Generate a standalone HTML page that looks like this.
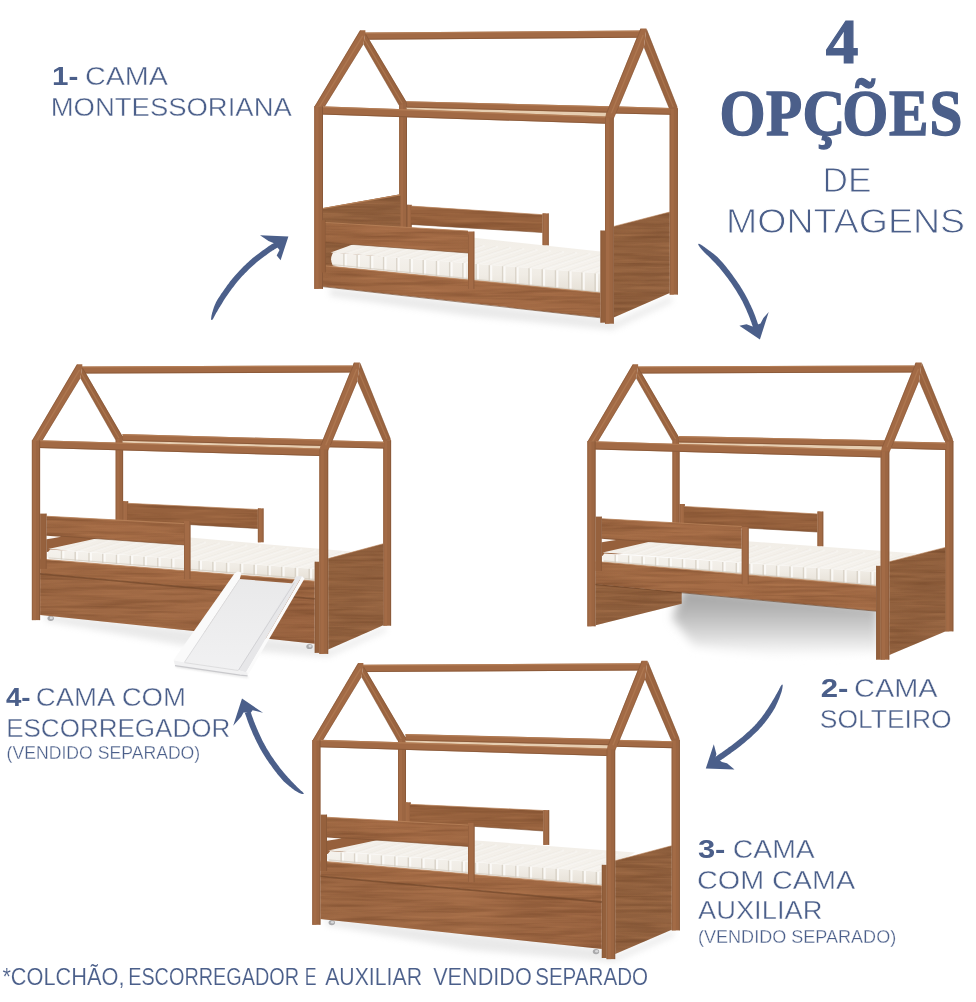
<!DOCTYPE html>
<html lang="pt-BR">
<head>
<meta charset="utf-8">
<title>4 opções de montagens</title>
<style>
html,body{margin:0;padding:0;background:#fff;}
body{width:976px;height:1002px;overflow:hidden;}
svg{display:block;}
text{white-space:pre;}
</style>
</head>
<body>
<svg width="976" height="1002" viewBox="0 0 976 1002">
<defs>
<linearGradient id="sideGrad" x1="0" y1="0" x2="1" y2="1">
<stop offset="0" stop-color="#94633f"/><stop offset=".5" stop-color="#8f5f3d"/><stop offset="1" stop-color="#966542"/>
</linearGradient>
<linearGradient id="frontGrad" x1="0" y1="0" x2="1" y2="0">
<stop offset="0" stop-color="#9d6742"/><stop offset=".45" stop-color="#a56c46"/><stop offset="1" stop-color="#9f6843"/>
</linearGradient>
<linearGradient id="drawGrad" x1="0" y1="0" x2="1" y2="0">
<stop offset="0" stop-color="#9b6642"/><stop offset=".5" stop-color="#a26b46"/><stop offset="1" stop-color="#98623f"/>
</linearGradient>
<linearGradient id="matTop" x1="0" y1="0" x2="0" y2="1">
<stop offset="0" stop-color="#f1ede6"/><stop offset="1" stop-color="#f6f3ee"/>
</linearGradient>
<linearGradient id="matFace" x1="0" y1="0" x2="0" y2="1">
<stop offset="0" stop-color="#f5f2ed"/><stop offset=".55" stop-color="#f0ece5"/><stop offset="1" stop-color="#e6e0d6"/>
</linearGradient>
<linearGradient id="slideGrad" x1="0" y1="0" x2="0" y2="1">
<stop offset="0" stop-color="#e9e9ea"/><stop offset="1" stop-color="#f1f1f2"/>
</linearGradient>
<linearGradient id="shad2" x1="0" y1="0" x2="0" y2="1">
<stop offset="0" stop-color="#a2a2a2"/><stop offset=".3" stop-color="#b2b2b2"/><stop offset=".65" stop-color="#d4d4d4"/><stop offset="1" stop-color="#fbfbfb"/>
</linearGradient>
<filter id="grain" x="0" y="0" width="100%" height="100%" color-interpolation-filters="sRGB">
<feTurbulence type="fractalNoise" baseFrequency="0.012 0.22" numOctaves="3" seed="7" result="n"/>
<feColorMatrix in="n" type="matrix" values="0 0 0 0 0.36  0 0 0 0 0.2  0 0 0 0 0.1  0.75 0 0 0 -0.31" result="g"/>
<feComposite in="g" in2="SourceGraphic" operator="in" result="gi"/>
<feTurbulence type="fractalNoise" baseFrequency="0.02 0.3" numOctaves="2" seed="21" result="n2"/>
<feColorMatrix in="n2" type="matrix" values="0 0 0 0 0.80  0 0 0 0 0.56  0 0 0 0 0.38  0.6 0 0 0 -0.27" result="l"/>
<feComposite in="l" in2="SourceGraphic" operator="in" result="li"/>
<feMerge><feMergeNode in="SourceGraphic"/><feMergeNode in="gi"/><feMergeNode in="li"/></feMerge>
</filter>
<filter id="b1" x="-10%" y="-100%" width="120%" height="300%"><feGaussianBlur stdDeviation="1.2"/></filter>
<filter id="b3" x="-10%" y="-40%" width="120%" height="180%"><feGaussianBlur stdDeviation="3"/></filter>
<filter id="b4" x="-10%" y="-40%" width="120%" height="180%"><feGaussianBlur stdDeviation="4"/></filter>
<filter id="b5" x="-10%" y="-40%" width="120%" height="180%"><feGaussianBlur stdDeviation="5"/></filter>
</defs>
<rect width="976" height="1002" fill="#fff"/>

<g>
<polygon points="330.0,288.0 600.0,318.0 614.0,322.0 672.0,296.0 672.0,302.0 612.0,330.0 470.0,316.0 330.0,296.0" fill="#bdbdbd" opacity="0.32" filter="url(#b3)"/>
<rect x="669.7" y="108.4" width="8.2" height="186.2" fill="#9c6642" />
<rect x="669.7" y="108.4" width="4.1" height="186.2" fill="#a56d47" opacity=".8"/>
<line x1="677.4" y1="108.4" x2="677.4" y2="294.6" stroke="#7d5032" stroke-width="1" opacity=".55"/>
<line x1="670.2" y1="108.4" x2="670.2" y2="294.6" stroke="#7d5032" stroke-width="1" opacity=".35"/>
<rect x="399.2" y="101.5" width="7.8" height="130.5" fill="#9c6642" />
<rect x="399.2" y="101.5" width="3.9" height="130.5" fill="#a56d47" opacity=".8"/>
<line x1="406.5" y1="101.5" x2="406.5" y2="232.0" stroke="#7d5032" stroke-width="1" opacity=".55"/>
<line x1="399.7" y1="101.5" x2="399.7" y2="232.0" stroke="#7d5032" stroke-width="1" opacity=".35"/>
<polygon points="406.6,107.1 609.5,112.2 609.5,117.1 406.6,109.9" fill="#e6cdb0" />
<polygon points="406.6,101.2 609.5,106.3 609.5,112.7 406.6,107.6" fill="#a26a45" />
<line x1="406.6" y1="101.8" x2="609.5" y2="106.9" stroke="#b9835a" stroke-width="1.1" opacity=".75"/>
<line x1="406.6" y1="107.1" x2="609.5" y2="112.2" stroke="#7d5032" stroke-width="1" opacity=".6"/>
<polygon points="365.0,32.5 640.0,30.5 640.0,37.7 365.0,39.7" fill="#a26a45" />
<line x1="365.0" y1="33.1" x2="640.0" y2="31.1" stroke="#b9835a" stroke-width="1.1" opacity=".75"/>
<line x1="365.0" y1="39.2" x2="640.0" y2="37.2" stroke="#7d5032" stroke-width="1" opacity=".6"/>
<polygon points="363.5,44.0 365.4,32.9 406.0,101.0 407.0,103.0 398.9,105.1" fill="#9a6440" />
<line x1="365.7" y1="34.4" x2="405.8" y2="101.7" stroke="#7d5032" stroke-width="1" opacity=".45"/>
<line x1="364.5" y1="39.4" x2="402.4" y2="103.5" stroke="#b9835a" stroke-width="1.2" opacity=".55"/>
<line x1="363.7" y1="44.2" x2="399.1" y2="105.3" stroke="#7d5032" stroke-width="1" opacity=".4"/>
<polygon points="314.3,106.8 360.0,30.2 365.4,30.2 365.4,32.9 363.5,44.0 324.7,106.8" fill="#a26a45" />
<line x1="314.8" y1="106.8" x2="360.4" y2="30.7" stroke="#7d5032" stroke-width="1" opacity=".45"/>
<line x1="319.3" y1="106.8" x2="362.7" y2="35.9" stroke="#b9835a" stroke-width="1.3" opacity=".5"/>
<line x1="324.3" y1="106.8" x2="363.2" y2="44.2" stroke="#7d5032" stroke-width="1" opacity=".4"/>
<polygon points="323.0,207.9 400.4,194.2 400.4,252.0 323.0,268.0" fill="url(#sideGrad)" filter="url(#grain)"/>
<polygon points="323.0,207.9 400.4,194.2 400.4,195.4 323.0,209.1" fill="#b9835a" />
<rect x="407.0" y="204.8" width="4.7" height="23.2" fill="#a26a45" />
<rect x="407.0" y="204.8" width="2.4" height="23.2" fill="#a56d47" opacity=".8"/>
<line x1="411.2" y1="204.8" x2="411.2" y2="228.0" stroke="#7d5032" stroke-width="1" opacity=".55"/>
<line x1="407.5" y1="204.8" x2="407.5" y2="228.0" stroke="#7d5032" stroke-width="1" opacity=".35"/>
<polygon points="411.0,206.1 542.6,214.7 542.6,232.5 411.0,224.4" fill="#96613d" filter="url(#grain)"/>
<line x1="411.0" y1="206.1" x2="542.6" y2="214.7" stroke="#b9835a" stroke-width="1" opacity=".7"/>
<line x1="411.0" y1="224.4" x2="542.6" y2="232.5" stroke="#7d5032" stroke-width="1" opacity=".6"/>
<rect x="542.6" y="213.4" width="6.2" height="32.0" fill="#a26a45" />
<rect x="542.6" y="213.4" width="3.1" height="32.0" fill="#a56d47" opacity=".8"/>
<line x1="548.3" y1="213.4" x2="548.3" y2="245.4" stroke="#7d5032" stroke-width="1" opacity=".55"/>
<line x1="543.1" y1="213.4" x2="543.1" y2="245.4" stroke="#7d5032" stroke-width="1" opacity=".35"/>
<clipPath id="mclip1"><polygon points="330.7,252.5 395.0,229.0 600.4,251.6 600.4,273.5"/></clipPath>
<polygon points="330.7,252.5 395.0,229.0 600.4,251.6 600.4,273.5" fill="url(#matTop)" />
<g clip-path="url(#mclip1)">
<line x1="343.9" y1="253.5" x2="389.9" y2="238.3" stroke="#d9d2c6" stroke-width="1.6" opacity=".18"/>
<line x1="346.1" y1="253.5" x2="392.1" y2="238.3" stroke="#ffffff" stroke-width="2.0" opacity=".3"/>
<line x1="357.1" y1="254.6" x2="403.1" y2="239.4" stroke="#d9d2c6" stroke-width="1.6" opacity=".18"/>
<line x1="359.3" y1="254.6" x2="405.3" y2="239.4" stroke="#ffffff" stroke-width="2.0" opacity=".3"/>
<line x1="370.4" y1="255.6" x2="416.4" y2="240.4" stroke="#d9d2c6" stroke-width="1.6" opacity=".18"/>
<line x1="372.6" y1="255.6" x2="418.6" y2="240.4" stroke="#ffffff" stroke-width="2.0" opacity=".3"/>
<line x1="383.6" y1="256.6" x2="429.6" y2="241.4" stroke="#d9d2c6" stroke-width="1.6" opacity=".18"/>
<line x1="385.8" y1="256.6" x2="431.8" y2="241.4" stroke="#ffffff" stroke-width="2.0" opacity=".3"/>
<line x1="396.8" y1="257.6" x2="442.8" y2="242.5" stroke="#d9d2c6" stroke-width="1.6" opacity=".18"/>
<line x1="399.0" y1="257.6" x2="445.0" y2="242.5" stroke="#ffffff" stroke-width="2.0" opacity=".3"/>
<line x1="410.0" y1="258.7" x2="456.0" y2="243.5" stroke="#d9d2c6" stroke-width="1.6" opacity=".18"/>
<line x1="412.2" y1="258.7" x2="458.2" y2="243.5" stroke="#ffffff" stroke-width="2.0" opacity=".3"/>
<line x1="423.2" y1="259.7" x2="469.2" y2="244.5" stroke="#d9d2c6" stroke-width="1.6" opacity=".18"/>
<line x1="425.4" y1="259.7" x2="471.4" y2="244.5" stroke="#ffffff" stroke-width="2.0" opacity=".3"/>
<line x1="436.5" y1="260.7" x2="482.5" y2="245.6" stroke="#d9d2c6" stroke-width="1.6" opacity=".18"/>
<line x1="438.7" y1="260.7" x2="484.7" y2="245.6" stroke="#ffffff" stroke-width="2.0" opacity=".3"/>
<line x1="449.7" y1="261.8" x2="495.7" y2="246.6" stroke="#d9d2c6" stroke-width="1.6" opacity=".18"/>
<line x1="451.9" y1="261.8" x2="497.9" y2="246.6" stroke="#ffffff" stroke-width="2.0" opacity=".3"/>
<line x1="462.9" y1="262.8" x2="508.9" y2="247.6" stroke="#d9d2c6" stroke-width="1.6" opacity=".18"/>
<line x1="465.1" y1="262.8" x2="511.1" y2="247.6" stroke="#ffffff" stroke-width="2.0" opacity=".3"/>
<line x1="476.1" y1="263.8" x2="522.1" y2="248.6" stroke="#d9d2c6" stroke-width="1.6" opacity=".18"/>
<line x1="478.3" y1="263.8" x2="524.3" y2="248.6" stroke="#ffffff" stroke-width="2.0" opacity=".3"/>
<line x1="489.3" y1="264.9" x2="535.3" y2="249.7" stroke="#d9d2c6" stroke-width="1.6" opacity=".18"/>
<line x1="491.5" y1="264.9" x2="537.5" y2="249.7" stroke="#ffffff" stroke-width="2.0" opacity=".3"/>
<line x1="502.6" y1="265.9" x2="548.6" y2="250.7" stroke="#d9d2c6" stroke-width="1.6" opacity=".18"/>
<line x1="504.8" y1="265.9" x2="550.8" y2="250.7" stroke="#ffffff" stroke-width="2.0" opacity=".3"/>
<line x1="515.8" y1="266.9" x2="561.8" y2="251.7" stroke="#d9d2c6" stroke-width="1.6" opacity=".18"/>
<line x1="518.0" y1="266.9" x2="564.0" y2="251.7" stroke="#ffffff" stroke-width="2.0" opacity=".3"/>
<line x1="529.0" y1="267.9" x2="575.0" y2="252.8" stroke="#d9d2c6" stroke-width="1.6" opacity=".18"/>
<line x1="531.2" y1="267.9" x2="577.2" y2="252.8" stroke="#ffffff" stroke-width="2.0" opacity=".3"/>
<line x1="542.2" y1="269.0" x2="588.2" y2="253.8" stroke="#d9d2c6" stroke-width="1.6" opacity=".18"/>
<line x1="544.4" y1="269.0" x2="590.4" y2="253.8" stroke="#ffffff" stroke-width="2.0" opacity=".3"/>
<line x1="555.5" y1="270.0" x2="601.5" y2="254.8" stroke="#d9d2c6" stroke-width="1.6" opacity=".18"/>
<line x1="557.7" y1="270.0" x2="603.7" y2="254.8" stroke="#ffffff" stroke-width="2.0" opacity=".3"/>
<line x1="568.7" y1="271.0" x2="614.7" y2="255.8" stroke="#d9d2c6" stroke-width="1.6" opacity=".18"/>
<line x1="570.9" y1="271.0" x2="616.9" y2="255.8" stroke="#ffffff" stroke-width="2.0" opacity=".3"/>
<line x1="581.9" y1="272.1" x2="627.9" y2="256.9" stroke="#d9d2c6" stroke-width="1.6" opacity=".18"/>
<line x1="584.1" y1="272.1" x2="630.1" y2="256.9" stroke="#ffffff" stroke-width="2.0" opacity=".3"/>
<line x1="595.1" y1="273.1" x2="641.1" y2="257.9" stroke="#d9d2c6" stroke-width="1.6" opacity=".18"/>
<line x1="597.3" y1="273.1" x2="643.3" y2="257.9" stroke="#ffffff" stroke-width="2.0" opacity=".3"/>
<line x1="608.3" y1="274.1" x2="654.3" y2="258.9" stroke="#d9d2c6" stroke-width="1.6" opacity=".18"/>
<line x1="610.5" y1="274.1" x2="656.5" y2="258.9" stroke="#ffffff" stroke-width="2.0" opacity=".3"/>
<line x1="621.6" y1="275.1" x2="667.6" y2="260.0" stroke="#d9d2c6" stroke-width="1.6" opacity=".18"/>
<line x1="623.8" y1="275.1" x2="669.8" y2="260.0" stroke="#ffffff" stroke-width="2.0" opacity=".3"/>
</g>
<path d="M333.2,252.5 L600.4,273.5 L600.4,293.0 L332.7,265.3 Q329.2,258.9 333.2,252.5Z" fill="url(#matFace)"/>
<line x1="343.9" y1="253.8" x2="343.9" y2="266.4" stroke="#d3ccc0" stroke-width="1.5" opacity=".75"/>
<line x1="345.8" y1="253.8" x2="345.8" y2="266.4" stroke="#fdfcfa" stroke-width="2.0" opacity=".85"/>
<line x1="357.1" y1="254.9" x2="357.1" y2="267.7" stroke="#d3ccc0" stroke-width="1.5" opacity=".75"/>
<line x1="359.0" y1="254.9" x2="359.0" y2="267.7" stroke="#fdfcfa" stroke-width="2.0" opacity=".85"/>
<line x1="370.4" y1="255.9" x2="370.4" y2="269.1" stroke="#d3ccc0" stroke-width="1.5" opacity=".75"/>
<line x1="372.3" y1="255.9" x2="372.3" y2="269.1" stroke="#fdfcfa" stroke-width="2.0" opacity=".85"/>
<line x1="383.6" y1="256.9" x2="383.6" y2="270.4" stroke="#d3ccc0" stroke-width="1.5" opacity=".75"/>
<line x1="385.5" y1="256.9" x2="385.5" y2="270.4" stroke="#fdfcfa" stroke-width="2.0" opacity=".85"/>
<line x1="396.8" y1="257.9" x2="396.8" y2="271.8" stroke="#d3ccc0" stroke-width="1.5" opacity=".75"/>
<line x1="398.7" y1="257.9" x2="398.7" y2="271.8" stroke="#fdfcfa" stroke-width="2.0" opacity=".85"/>
<line x1="410.0" y1="259.0" x2="410.0" y2="273.1" stroke="#d3ccc0" stroke-width="1.5" opacity=".75"/>
<line x1="411.9" y1="259.0" x2="411.9" y2="273.1" stroke="#fdfcfa" stroke-width="2.0" opacity=".85"/>
<line x1="423.2" y1="260.0" x2="423.2" y2="274.5" stroke="#d3ccc0" stroke-width="1.5" opacity=".75"/>
<line x1="425.1" y1="260.0" x2="425.1" y2="274.5" stroke="#fdfcfa" stroke-width="2.0" opacity=".85"/>
<line x1="436.5" y1="261.0" x2="436.5" y2="275.9" stroke="#d3ccc0" stroke-width="1.5" opacity=".75"/>
<line x1="438.4" y1="261.0" x2="438.4" y2="275.9" stroke="#fdfcfa" stroke-width="2.0" opacity=".85"/>
<line x1="449.7" y1="262.1" x2="449.7" y2="277.2" stroke="#d3ccc0" stroke-width="1.5" opacity=".75"/>
<line x1="451.6" y1="262.1" x2="451.6" y2="277.2" stroke="#fdfcfa" stroke-width="2.0" opacity=".85"/>
<line x1="462.9" y1="263.1" x2="462.9" y2="278.6" stroke="#d3ccc0" stroke-width="1.5" opacity=".75"/>
<line x1="464.8" y1="263.1" x2="464.8" y2="278.6" stroke="#fdfcfa" stroke-width="2.0" opacity=".85"/>
<line x1="476.1" y1="264.1" x2="476.1" y2="279.9" stroke="#d3ccc0" stroke-width="1.5" opacity=".75"/>
<line x1="478.0" y1="264.1" x2="478.0" y2="279.9" stroke="#fdfcfa" stroke-width="2.0" opacity=".85"/>
<line x1="489.3" y1="265.2" x2="489.3" y2="281.3" stroke="#d3ccc0" stroke-width="1.5" opacity=".75"/>
<line x1="491.2" y1="265.2" x2="491.2" y2="281.3" stroke="#fdfcfa" stroke-width="2.0" opacity=".85"/>
<line x1="502.6" y1="266.2" x2="502.6" y2="282.7" stroke="#d3ccc0" stroke-width="1.5" opacity=".75"/>
<line x1="504.5" y1="266.2" x2="504.5" y2="282.7" stroke="#fdfcfa" stroke-width="2.0" opacity=".85"/>
<line x1="515.8" y1="267.2" x2="515.8" y2="284.0" stroke="#d3ccc0" stroke-width="1.5" opacity=".75"/>
<line x1="517.7" y1="267.2" x2="517.7" y2="284.0" stroke="#fdfcfa" stroke-width="2.0" opacity=".85"/>
<line x1="529.0" y1="268.2" x2="529.0" y2="285.4" stroke="#d3ccc0" stroke-width="1.5" opacity=".75"/>
<line x1="530.9" y1="268.2" x2="530.9" y2="285.4" stroke="#fdfcfa" stroke-width="2.0" opacity=".85"/>
<line x1="542.2" y1="269.3" x2="542.2" y2="286.7" stroke="#d3ccc0" stroke-width="1.5" opacity=".75"/>
<line x1="544.1" y1="269.3" x2="544.1" y2="286.7" stroke="#fdfcfa" stroke-width="2.0" opacity=".85"/>
<line x1="555.5" y1="270.3" x2="555.5" y2="288.1" stroke="#d3ccc0" stroke-width="1.5" opacity=".75"/>
<line x1="557.4" y1="270.3" x2="557.4" y2="288.1" stroke="#fdfcfa" stroke-width="2.0" opacity=".85"/>
<line x1="568.7" y1="271.3" x2="568.7" y2="289.4" stroke="#d3ccc0" stroke-width="1.5" opacity=".75"/>
<line x1="570.6" y1="271.3" x2="570.6" y2="289.4" stroke="#fdfcfa" stroke-width="2.0" opacity=".85"/>
<line x1="581.9" y1="272.4" x2="581.9" y2="290.8" stroke="#d3ccc0" stroke-width="1.5" opacity=".75"/>
<line x1="583.8" y1="272.4" x2="583.8" y2="290.8" stroke="#fdfcfa" stroke-width="2.0" opacity=".85"/>
<line x1="595.1" y1="273.4" x2="595.1" y2="292.2" stroke="#d3ccc0" stroke-width="1.5" opacity=".75"/>
<line x1="597.0" y1="273.4" x2="597.0" y2="292.2" stroke="#fdfcfa" stroke-width="2.0" opacity=".85"/>
<line x1="332.7" y1="264.6" x2="600.4" y2="292.3" stroke="#cfc7ba" stroke-width="1.4" opacity=".55"/>
<polygon points="613.0,106.3 670.5,108.0 670.5,114.8 613.0,113.5" fill="#a26a45" />
<line x1="613.0" y1="106.9" x2="670.5" y2="108.6" stroke="#b9835a" stroke-width="1.1" opacity=".75"/>
<line x1="613.0" y1="113.0" x2="670.5" y2="114.3" stroke="#7d5032" stroke-width="1" opacity=".6"/>
<polygon points="643.9,47.0 646.4,28.5 676.9,105.9 677.9,108.9 669.7,108.9 668.9,107.8" fill="#9a6440" />
<line x1="646.6" y1="29.5" x2="677.1" y2="106.9" stroke="#7d5032" stroke-width="1" opacity=".45"/>
<line x1="645.4" y1="38.0" x2="673.3" y2="106.9" stroke="#b9835a" stroke-width="1.2" opacity=".5"/>
<line x1="644.2" y1="47.5" x2="669.2" y2="108.1" stroke="#7d5032" stroke-width="1" opacity=".4"/>
<polygon points="613.7,226.4 669.7,212.0 669.7,293.0 613.7,317.5" fill="url(#sideGrad)" filter="url(#grain)"/>
<line x1="613.7" y1="226.4" x2="669.7" y2="212.0" stroke="#b9835a" stroke-width="1" opacity=".55"/>
<polygon points="320.5,106.3 606.5,116.5 606.5,123.8 320.5,114.5" fill="#a26a45" />
<line x1="320.5" y1="106.9" x2="606.5" y2="117.1" stroke="#b9835a" stroke-width="1.1" opacity=".75"/>
<line x1="320.5" y1="114.0" x2="606.5" y2="123.3" stroke="#7d5032" stroke-width="1" opacity=".6"/>
<rect x="314.3" y="106.3" width="8.7" height="182.6" fill="#9c6642" />
<rect x="314.3" y="106.3" width="4.3" height="182.6" fill="#a56d47" opacity=".8"/>
<line x1="322.5" y1="106.3" x2="322.5" y2="288.9" stroke="#7d5032" stroke-width="1" opacity=".55"/>
<line x1="314.8" y1="106.3" x2="314.8" y2="288.9" stroke="#7d5032" stroke-width="1" opacity=".35"/>
<polygon points="605.0,118.5 606.2,113.0 640.4,28.5 646.4,28.5 643.9,47.0 616.3,113.0 613.8,118.5" fill="#a26a45" />
<line x1="606.6" y1="113.3" x2="640.8" y2="29.0" stroke="#7d5032" stroke-width="1" opacity=".45"/>
<line x1="611.3" y1="113.3" x2="643.2" y2="35.0" stroke="#b9835a" stroke-width="1.3" opacity=".5"/>
<line x1="615.9" y1="113.3" x2="643.6" y2="47.0" stroke="#7d5032" stroke-width="1" opacity=".4"/>
<rect x="605.0" y="117.5" width="8.8" height="206.2" fill="#9c6642" />
<rect x="605.0" y="117.5" width="4.4" height="206.2" fill="#a56d47" opacity=".8"/>
<line x1="613.3" y1="117.5" x2="613.3" y2="323.7" stroke="#7d5032" stroke-width="1" opacity=".55"/>
<line x1="605.5" y1="117.5" x2="605.5" y2="323.7" stroke="#7d5032" stroke-width="1" opacity=".35"/>
<rect x="600.4" y="230.5" width="4.6" height="92.2" fill="#94603c" />
<line x1="600.9" y1="230.5" x2="600.9" y2="322.7" stroke="#7d5032" stroke-width="1" opacity=".4"/>
<polygon points="323.0,265.6 600.4,293.0 600.4,317.5 323.0,286.4" fill="url(#frontGrad)" filter="url(#grain)"/>
<line x1="323.0" y1="265.6" x2="600.4" y2="293.0" stroke="#b9835a" stroke-width="1.2" opacity=".8"/>
<line x1="323.0" y1="286.7" x2="600.4" y2="317.8" stroke="#6c4327" stroke-width="1.0" opacity=".6"/>
<rect x="321.5" y="220.2" width="4.3" height="52.3" fill="#96613d" />
<line x1="325.4" y1="220.2" x2="325.4" y2="272.5" stroke="#7d5032" stroke-width="0.9" opacity=".5"/>
<polygon points="325.6,222.5 468.0,231.0 468.0,253.0 325.6,242.4" fill="url(#frontGrad)" filter="url(#grain)"/>
<line x1="325.6" y1="222.5" x2="468.0" y2="231.0" stroke="#b9835a" stroke-width="1.1" opacity=".8"/>
<line x1="325.6" y1="242.4" x2="468.0" y2="253.0" stroke="#7d5032" stroke-width="1" opacity=".6"/>
<rect x="468.0" y="231.5" width="6.4" height="57.4" fill="#a36b46" />
<line x1="473.9" y1="231.5" x2="473.9" y2="288.9" stroke="#7d5032" stroke-width="1" opacity=".55"/>
<line x1="468.5" y1="234.5" x2="468.5" y2="288.9" stroke="#7d5032" stroke-width="0.9" opacity=".35"/>
</g>
<g>
<polygon points="45.0,614.0 315.0,643.0 330.0,650.0 386.0,626.0 386.0,631.0 328.0,657.0 180.0,645.0 45.0,621.0" fill="#bdbdbd" opacity="0.32" filter="url(#b3)"/>
<rect x="383.3" y="440.2" width="7.8" height="185.5" fill="#9c6642" />
<rect x="383.3" y="440.2" width="3.9" height="185.5" fill="#a56d47" opacity=".8"/>
<line x1="390.6" y1="440.2" x2="390.6" y2="625.7" stroke="#7d5032" stroke-width="1" opacity=".55"/>
<line x1="383.8" y1="440.2" x2="383.8" y2="625.7" stroke="#7d5032" stroke-width="1" opacity=".35"/>
<rect x="115.7" y="436.0" width="7.4" height="86.0" fill="#9c6642" />
<rect x="115.7" y="436.0" width="3.7" height="86.0" fill="#a56d47" opacity=".8"/>
<line x1="122.6" y1="436.0" x2="122.6" y2="522.0" stroke="#7d5032" stroke-width="1" opacity=".55"/>
<line x1="116.2" y1="436.0" x2="116.2" y2="522.0" stroke="#7d5032" stroke-width="1" opacity=".35"/>
<polygon points="122.5,440.3 323.5,445.4 323.5,449.0 122.5,443.1" fill="#e6cdb0" />
<polygon points="122.5,434.0 323.5,439.5 323.5,445.9 122.5,440.8" fill="#a26a45" />
<line x1="122.5" y1="434.6" x2="323.5" y2="440.1" stroke="#b9835a" stroke-width="1.1" opacity=".75"/>
<line x1="122.5" y1="440.3" x2="323.5" y2="445.4" stroke="#7d5032" stroke-width="1" opacity=".6"/>
<polygon points="82.0,366.4 352.5,365.4 352.5,372.5 82.0,373.6" fill="#a26a45" />
<line x1="82.0" y1="367.0" x2="352.5" y2="366.0" stroke="#b9835a" stroke-width="1.1" opacity=".75"/>
<line x1="82.0" y1="373.1" x2="352.5" y2="372.0" stroke="#7d5032" stroke-width="1" opacity=".6"/>
<polygon points="80.4,378.0 82.3,366.9 122.1,435.5 123.1,437.5 115.4,439.6" fill="#9a6440" />
<line x1="82.6" y1="368.4" x2="121.9" y2="436.2" stroke="#7d5032" stroke-width="1" opacity=".45"/>
<line x1="81.4" y1="373.4" x2="118.9" y2="438.0" stroke="#b9835a" stroke-width="1.2" opacity=".55"/>
<line x1="80.6" y1="378.2" x2="115.6" y2="439.8" stroke="#7d5032" stroke-width="1" opacity=".4"/>
<polygon points="31.9,440.7 76.9,364.2 82.3,364.2 82.3,366.9 80.4,378.0 42.3,440.7" fill="#a26a45" />
<line x1="32.4" y1="440.7" x2="77.3" y2="364.7" stroke="#7d5032" stroke-width="1" opacity=".45"/>
<line x1="36.9" y1="440.7" x2="79.6" y2="369.9" stroke="#b9835a" stroke-width="1.3" opacity=".5"/>
<line x1="41.9" y1="440.7" x2="80.1" y2="378.2" stroke="#7d5032" stroke-width="1" opacity=".4"/>
<polygon points="46.6,535.0 123.0,523.0 123.0,545.0 46.6,552.0" fill="#96603c" />
<rect x="122.5" y="501.2" width="5.7" height="25.8" fill="#a26a45" />
<rect x="122.5" y="501.2" width="2.8" height="25.8" fill="#a56d47" opacity=".8"/>
<line x1="127.7" y1="501.2" x2="127.7" y2="527.0" stroke="#7d5032" stroke-width="1" opacity=".55"/>
<line x1="123.0" y1="501.2" x2="123.0" y2="527.0" stroke="#7d5032" stroke-width="1" opacity=".35"/>
<polygon points="127.5,503.3 257.9,509.5 257.9,528.5 127.5,521.0" fill="#96613d" filter="url(#grain)"/>
<line x1="127.5" y1="503.3" x2="257.9" y2="509.5" stroke="#b9835a" stroke-width="1" opacity=".7"/>
<line x1="127.5" y1="521.0" x2="257.9" y2="528.5" stroke="#7d5032" stroke-width="1" opacity=".6"/>
<rect x="257.9" y="508.4" width="5.7" height="33.9" fill="#a26a45" />
<rect x="257.9" y="508.4" width="2.9" height="33.9" fill="#a56d47" opacity=".8"/>
<line x1="263.1" y1="508.4" x2="263.1" y2="542.3" stroke="#7d5032" stroke-width="1" opacity=".55"/>
<line x1="258.4" y1="508.4" x2="258.4" y2="542.3" stroke="#7d5032" stroke-width="1" opacity=".35"/>
<clipPath id="mclip2"><polygon points="48.2,549.0 126.3,532.1 351.0,551.5 314.7,568.9"/></clipPath>
<polygon points="48.2,549.0 126.3,532.1 351.0,551.5 314.7,568.9" fill="url(#matTop)" />
<g clip-path="url(#mclip2)">
<line x1="61.5" y1="550.4" x2="107.5" y2="535.2" stroke="#d9d2c6" stroke-width="1.6" opacity=".18"/>
<line x1="63.7" y1="550.4" x2="109.7" y2="535.2" stroke="#ffffff" stroke-width="2.0" opacity=".3"/>
<line x1="75.2" y1="551.4" x2="121.2" y2="536.2" stroke="#d9d2c6" stroke-width="1.6" opacity=".18"/>
<line x1="77.4" y1="551.4" x2="123.4" y2="536.2" stroke="#ffffff" stroke-width="2.0" opacity=".3"/>
<line x1="89.0" y1="552.4" x2="135.0" y2="537.2" stroke="#d9d2c6" stroke-width="1.6" opacity=".18"/>
<line x1="91.2" y1="552.4" x2="137.2" y2="537.2" stroke="#ffffff" stroke-width="2.0" opacity=".3"/>
<line x1="102.8" y1="553.4" x2="148.8" y2="538.2" stroke="#d9d2c6" stroke-width="1.6" opacity=".18"/>
<line x1="105.0" y1="553.4" x2="151.0" y2="538.2" stroke="#ffffff" stroke-width="2.0" opacity=".3"/>
<line x1="116.5" y1="554.4" x2="162.5" y2="539.2" stroke="#d9d2c6" stroke-width="1.6" opacity=".18"/>
<line x1="118.7" y1="554.4" x2="164.7" y2="539.2" stroke="#ffffff" stroke-width="2.0" opacity=".3"/>
<line x1="130.3" y1="555.4" x2="176.3" y2="540.3" stroke="#d9d2c6" stroke-width="1.6" opacity=".18"/>
<line x1="132.5" y1="555.4" x2="178.5" y2="540.3" stroke="#ffffff" stroke-width="2.0" opacity=".3"/>
<line x1="144.0" y1="556.4" x2="190.0" y2="541.3" stroke="#d9d2c6" stroke-width="1.6" opacity=".18"/>
<line x1="146.2" y1="556.4" x2="192.2" y2="541.3" stroke="#ffffff" stroke-width="2.0" opacity=".3"/>
<line x1="157.8" y1="557.4" x2="203.8" y2="542.3" stroke="#d9d2c6" stroke-width="1.6" opacity=".18"/>
<line x1="160.0" y1="557.4" x2="206.0" y2="542.3" stroke="#ffffff" stroke-width="2.0" opacity=".3"/>
<line x1="171.6" y1="558.4" x2="217.6" y2="543.3" stroke="#d9d2c6" stroke-width="1.6" opacity=".18"/>
<line x1="173.8" y1="558.4" x2="219.8" y2="543.3" stroke="#ffffff" stroke-width="2.0" opacity=".3"/>
<line x1="185.3" y1="559.5" x2="231.3" y2="544.3" stroke="#d9d2c6" stroke-width="1.6" opacity=".18"/>
<line x1="187.5" y1="559.5" x2="233.5" y2="544.3" stroke="#ffffff" stroke-width="2.0" opacity=".3"/>
<line x1="199.1" y1="560.5" x2="245.1" y2="545.3" stroke="#d9d2c6" stroke-width="1.6" opacity=".18"/>
<line x1="201.3" y1="560.5" x2="247.3" y2="545.3" stroke="#ffffff" stroke-width="2.0" opacity=".3"/>
<line x1="212.9" y1="561.5" x2="258.9" y2="546.3" stroke="#d9d2c6" stroke-width="1.6" opacity=".18"/>
<line x1="215.1" y1="561.5" x2="261.1" y2="546.3" stroke="#ffffff" stroke-width="2.0" opacity=".3"/>
<line x1="226.6" y1="562.5" x2="272.6" y2="547.3" stroke="#d9d2c6" stroke-width="1.6" opacity=".18"/>
<line x1="228.8" y1="562.5" x2="274.8" y2="547.3" stroke="#ffffff" stroke-width="2.0" opacity=".3"/>
<line x1="240.4" y1="563.5" x2="286.4" y2="548.3" stroke="#d9d2c6" stroke-width="1.6" opacity=".18"/>
<line x1="242.6" y1="563.5" x2="288.6" y2="548.3" stroke="#ffffff" stroke-width="2.0" opacity=".3"/>
<line x1="254.1" y1="564.5" x2="300.1" y2="549.3" stroke="#d9d2c6" stroke-width="1.6" opacity=".18"/>
<line x1="256.3" y1="564.5" x2="302.3" y2="549.3" stroke="#ffffff" stroke-width="2.0" opacity=".3"/>
<line x1="267.9" y1="565.5" x2="313.9" y2="550.3" stroke="#d9d2c6" stroke-width="1.6" opacity=".18"/>
<line x1="270.1" y1="565.5" x2="316.1" y2="550.3" stroke="#ffffff" stroke-width="2.0" opacity=".3"/>
<line x1="281.7" y1="566.5" x2="327.7" y2="551.3" stroke="#d9d2c6" stroke-width="1.6" opacity=".18"/>
<line x1="283.9" y1="566.5" x2="329.9" y2="551.3" stroke="#ffffff" stroke-width="2.0" opacity=".3"/>
<line x1="295.4" y1="567.5" x2="341.4" y2="552.3" stroke="#d9d2c6" stroke-width="1.6" opacity=".18"/>
<line x1="297.6" y1="567.5" x2="343.6" y2="552.3" stroke="#ffffff" stroke-width="2.0" opacity=".3"/>
<line x1="309.2" y1="568.5" x2="355.2" y2="553.3" stroke="#d9d2c6" stroke-width="1.6" opacity=".18"/>
<line x1="311.4" y1="568.5" x2="357.4" y2="553.3" stroke="#ffffff" stroke-width="2.0" opacity=".3"/>
<line x1="323.0" y1="569.5" x2="369.0" y2="554.3" stroke="#d9d2c6" stroke-width="1.6" opacity=".18"/>
<line x1="325.2" y1="569.5" x2="371.2" y2="554.3" stroke="#ffffff" stroke-width="2.0" opacity=".3"/>
<line x1="336.7" y1="570.5" x2="382.7" y2="555.3" stroke="#d9d2c6" stroke-width="1.6" opacity=".18"/>
<line x1="338.9" y1="570.5" x2="384.9" y2="555.3" stroke="#ffffff" stroke-width="2.0" opacity=".3"/>
</g>
<path d="M50.2,549.4 L314.7,568.9 L314.7,580.2 L48.6,558.6 Q45.1,554.0 50.2,549.4Z" fill="url(#matFace)"/>
<line x1="61.5" y1="550.7" x2="61.5" y2="559.4" stroke="#d3ccc0" stroke-width="1.5" opacity=".75"/>
<line x1="63.4" y1="550.7" x2="63.4" y2="559.4" stroke="#fdfcfa" stroke-width="2.0" opacity=".85"/>
<line x1="75.2" y1="551.7" x2="75.2" y2="560.5" stroke="#d3ccc0" stroke-width="1.5" opacity=".75"/>
<line x1="77.1" y1="551.7" x2="77.1" y2="560.5" stroke="#fdfcfa" stroke-width="2.0" opacity=".85"/>
<line x1="89.0" y1="552.7" x2="89.0" y2="561.6" stroke="#d3ccc0" stroke-width="1.5" opacity=".75"/>
<line x1="90.9" y1="552.7" x2="90.9" y2="561.6" stroke="#fdfcfa" stroke-width="2.0" opacity=".85"/>
<line x1="102.8" y1="553.7" x2="102.8" y2="562.8" stroke="#d3ccc0" stroke-width="1.5" opacity=".75"/>
<line x1="104.7" y1="553.7" x2="104.7" y2="562.8" stroke="#fdfcfa" stroke-width="2.0" opacity=".85"/>
<line x1="116.5" y1="554.7" x2="116.5" y2="563.9" stroke="#d3ccc0" stroke-width="1.5" opacity=".75"/>
<line x1="118.4" y1="554.7" x2="118.4" y2="563.9" stroke="#fdfcfa" stroke-width="2.0" opacity=".85"/>
<line x1="130.3" y1="555.7" x2="130.3" y2="565.0" stroke="#d3ccc0" stroke-width="1.5" opacity=".75"/>
<line x1="132.2" y1="555.7" x2="132.2" y2="565.0" stroke="#fdfcfa" stroke-width="2.0" opacity=".85"/>
<line x1="144.0" y1="556.7" x2="144.0" y2="566.1" stroke="#d3ccc0" stroke-width="1.5" opacity=".75"/>
<line x1="145.9" y1="556.7" x2="145.9" y2="566.1" stroke="#fdfcfa" stroke-width="2.0" opacity=".85"/>
<line x1="157.8" y1="557.7" x2="157.8" y2="567.2" stroke="#d3ccc0" stroke-width="1.5" opacity=".75"/>
<line x1="159.7" y1="557.7" x2="159.7" y2="567.2" stroke="#fdfcfa" stroke-width="2.0" opacity=".85"/>
<line x1="171.6" y1="558.7" x2="171.6" y2="568.3" stroke="#d3ccc0" stroke-width="1.5" opacity=".75"/>
<line x1="173.5" y1="558.7" x2="173.5" y2="568.3" stroke="#fdfcfa" stroke-width="2.0" opacity=".85"/>
<line x1="185.3" y1="559.8" x2="185.3" y2="569.4" stroke="#d3ccc0" stroke-width="1.5" opacity=".75"/>
<line x1="187.2" y1="559.8" x2="187.2" y2="569.4" stroke="#fdfcfa" stroke-width="2.0" opacity=".85"/>
<line x1="199.1" y1="560.8" x2="199.1" y2="570.5" stroke="#d3ccc0" stroke-width="1.5" opacity=".75"/>
<line x1="201.0" y1="560.8" x2="201.0" y2="570.5" stroke="#fdfcfa" stroke-width="2.0" opacity=".85"/>
<line x1="212.9" y1="561.8" x2="212.9" y2="571.7" stroke="#d3ccc0" stroke-width="1.5" opacity=".75"/>
<line x1="214.8" y1="561.8" x2="214.8" y2="571.7" stroke="#fdfcfa" stroke-width="2.0" opacity=".85"/>
<line x1="226.6" y1="562.8" x2="226.6" y2="572.8" stroke="#d3ccc0" stroke-width="1.5" opacity=".75"/>
<line x1="228.5" y1="562.8" x2="228.5" y2="572.8" stroke="#fdfcfa" stroke-width="2.0" opacity=".85"/>
<line x1="240.4" y1="563.8" x2="240.4" y2="573.9" stroke="#d3ccc0" stroke-width="1.5" opacity=".75"/>
<line x1="242.3" y1="563.8" x2="242.3" y2="573.9" stroke="#fdfcfa" stroke-width="2.0" opacity=".85"/>
<line x1="254.1" y1="564.8" x2="254.1" y2="575.0" stroke="#d3ccc0" stroke-width="1.5" opacity=".75"/>
<line x1="256.0" y1="564.8" x2="256.0" y2="575.0" stroke="#fdfcfa" stroke-width="2.0" opacity=".85"/>
<line x1="267.9" y1="565.8" x2="267.9" y2="576.1" stroke="#d3ccc0" stroke-width="1.5" opacity=".75"/>
<line x1="269.8" y1="565.8" x2="269.8" y2="576.1" stroke="#fdfcfa" stroke-width="2.0" opacity=".85"/>
<line x1="281.7" y1="566.8" x2="281.7" y2="577.2" stroke="#d3ccc0" stroke-width="1.5" opacity=".75"/>
<line x1="283.6" y1="566.8" x2="283.6" y2="577.2" stroke="#fdfcfa" stroke-width="2.0" opacity=".85"/>
<line x1="295.4" y1="567.8" x2="295.4" y2="578.3" stroke="#d3ccc0" stroke-width="1.5" opacity=".75"/>
<line x1="297.3" y1="567.8" x2="297.3" y2="578.3" stroke="#fdfcfa" stroke-width="2.0" opacity=".85"/>
<line x1="309.2" y1="568.8" x2="309.2" y2="579.5" stroke="#d3ccc0" stroke-width="1.5" opacity=".75"/>
<line x1="311.1" y1="568.8" x2="311.1" y2="579.5" stroke="#fdfcfa" stroke-width="2.0" opacity=".85"/>
<line x1="48.6" y1="557.9" x2="314.7" y2="579.5" stroke="#cfc7ba" stroke-width="1.4" opacity=".55"/>
<polygon points="327.5,440.2 384.0,441.8 384.0,448.6 327.5,447.3" fill="#a26a45" />
<line x1="327.5" y1="440.8" x2="384.0" y2="442.4" stroke="#b9835a" stroke-width="1.1" opacity=".75"/>
<line x1="327.5" y1="446.8" x2="384.0" y2="448.1" stroke="#7d5032" stroke-width="1" opacity=".6"/>
<polygon points="357.4,380.9 359.9,362.4 390.1,437.7 391.1,440.7 383.3,440.7 382.5,439.6" fill="#9a6440" />
<line x1="360.1" y1="363.4" x2="390.3" y2="438.7" stroke="#7d5032" stroke-width="1" opacity=".45"/>
<line x1="358.9" y1="371.9" x2="386.9" y2="438.7" stroke="#b9835a" stroke-width="1.2" opacity=".5"/>
<line x1="357.7" y1="381.4" x2="382.8" y2="439.9" stroke="#7d5032" stroke-width="1" opacity=".4"/>
<polygon points="328.2,558.6 383.3,543.7 383.3,625.2 328.2,649.4" fill="url(#sideGrad)" filter="url(#grain)"/>
<line x1="328.2" y1="558.6" x2="383.3" y2="543.7" stroke="#b9835a" stroke-width="1" opacity=".55"/>
<polygon points="38.4,440.2 320.5,448.4 320.5,456.1 38.4,448.0" fill="#a26a45" />
<line x1="38.4" y1="440.8" x2="320.5" y2="449.0" stroke="#b9835a" stroke-width="1.1" opacity=".75"/>
<line x1="38.4" y1="447.5" x2="320.5" y2="455.6" stroke="#7d5032" stroke-width="1" opacity=".6"/>
<rect x="31.9" y="440.2" width="8.2" height="179.9" fill="#9c6642" />
<rect x="31.9" y="440.2" width="4.1" height="179.9" fill="#a56d47" opacity=".8"/>
<line x1="39.6" y1="440.2" x2="39.6" y2="620.1" stroke="#7d5032" stroke-width="1" opacity=".55"/>
<line x1="32.4" y1="440.2" x2="32.4" y2="620.1" stroke="#7d5032" stroke-width="1" opacity=".35"/>
<polygon points="319.4,450.4 320.6,444.9 353.9,362.4 359.9,362.4 357.4,380.9 330.7,444.9 328.2,450.4" fill="#a26a45" />
<line x1="321.0" y1="445.2" x2="354.3" y2="362.9" stroke="#7d5032" stroke-width="1" opacity=".45"/>
<line x1="325.7" y1="445.2" x2="356.7" y2="368.9" stroke="#b9835a" stroke-width="1.3" opacity=".5"/>
<line x1="330.3" y1="445.2" x2="357.1" y2="380.9" stroke="#7d5032" stroke-width="1" opacity=".4"/>
<rect x="319.4" y="449.4" width="8.8" height="204.5" fill="#9c6642" />
<rect x="319.4" y="449.4" width="4.4" height="204.5" fill="#a56d47" opacity=".8"/>
<line x1="327.7" y1="449.4" x2="327.7" y2="653.9" stroke="#7d5032" stroke-width="1" opacity=".55"/>
<line x1="319.9" y1="449.4" x2="319.9" y2="653.9" stroke="#7d5032" stroke-width="1" opacity=".35"/>
<rect x="314.7" y="561.7" width="4.8" height="91.2" fill="#94603c" />
<line x1="315.2" y1="561.7" x2="315.2" y2="652.9" stroke="#7d5032" stroke-width="1" opacity=".4"/>
<ellipse cx="50.7" cy="618.3" rx="3.2" ry="2.6" fill="#a9a9ab"/><ellipse cx="51.3" cy="617.9" rx="1.6" ry="1.3" fill="#d8d8da"/>
<ellipse cx="309.5" cy="646.5" rx="3.2" ry="2.6" fill="#a9a9ab"/><ellipse cx="310.1" cy="646.1" rx="1.6" ry="1.3" fill="#d8d8da"/>
<polygon points="40.1,573.0 314.7,598.0 314.7,643.7 40.1,615.0" fill="url(#drawGrad)" filter="url(#grain)"/>
<polygon points="40.1,559.2 314.7,581.2 314.7,598.6 40.1,573.6" fill="url(#frontGrad)" filter="url(#grain)"/>
<line x1="40.1" y1="559.2" x2="314.7" y2="581.2" stroke="#b9835a" stroke-width="1.2" opacity=".8"/>
<line x1="40.1" y1="573.9" x2="314.7" y2="598.9" stroke="#6c4327" stroke-width="1.8" opacity=".6"/>
<rect x="40.1" y="513.6" width="6.5" height="55.3" fill="#96613d" />
<line x1="46.2" y1="513.6" x2="46.2" y2="568.9" stroke="#7d5032" stroke-width="0.9" opacity=".5"/>
<polygon points="46.6,516.2 184.0,523.6 184.0,544.9 46.6,535.1" fill="url(#frontGrad)" filter="url(#grain)"/>
<line x1="46.6" y1="516.2" x2="184.0" y2="523.6" stroke="#b9835a" stroke-width="1.1" opacity=".8"/>
<line x1="46.6" y1="535.1" x2="184.0" y2="544.9" stroke="#7d5032" stroke-width="1" opacity=".6"/>
<rect x="184.0" y="521.1" width="6.5" height="58.0" fill="#a36b46" />
<line x1="190.0" y1="521.1" x2="190.0" y2="579.1" stroke="#7d5032" stroke-width="1" opacity=".55"/>
<line x1="184.5" y1="524.1" x2="184.5" y2="579.1" stroke="#7d5032" stroke-width="0.9" opacity=".35"/>
<polygon points="46.6,535.8 61.0,536.8 53.0,538.2 46.6,539.2" fill="#fbf8f5" />
</g>
<polygon points="176.0,664.5 247.0,676.5 249.0,678.0 176.0,667.0" fill="#9a9a9a" opacity="0.35" filter="url(#b1)"/>
<polygon points="184.4,662.4 238.4,670.3 247.6,675.6 240.0,675.0 175.2,665.6 173.6,660.4" fill="#f6f6f6"/>
<polygon points="239.6,579.0 294.4,583.4 238.4,670.3 184.4,662.4" fill="url(#slideGrad)"/>
<polygon points="234.5,573.6 237.6,571.4 241.6,572.4 239.8,579.0 184.4,662.6 175.0,661.6 173.6,660.0" fill="#fafafa"/>
<line x1="239.6" y1="579.4" x2="184.4" y2="662.4" stroke="#dcdcde" stroke-width="1"/>
<polygon points="294.4,579.4 295.6,576.4 302.0,576.0 246.0,672.6 238.4,670.3" fill="#e7e7e9"/>
<polygon points="302.0,576.2 304.6,578.4 247.8,675.4 245.6,673.0" fill="#fbfbfb"/>
<line x1="294.4" y1="582.6" x2="238.6" y2="670.0" stroke="#d2d2d5" stroke-width="1"/>
<polygon points="174.0,660.6 184.4,662.4 238.4,670.3 247.4,672.4 247.6,675.6 240.0,675.0 175.2,665.8" fill="#f1f1f2"/>
<polyline points="175.0,665.6 240.0,675.2 247.6,675.8" fill="none" stroke="#c9c9cc" stroke-width="1.2"/>
<line x1="184.4" y1="662.6" x2="238.4" y2="670.5" stroke="#dededf" stroke-width="1"/>
<g>
<polygon points="684.0,588.0 878.0,606.0 878.0,652.0 770.0,655.0 694.0,646.0 672.0,618.0" fill="url(#shad2)" filter="url(#b5)"/>
<rect x="945.2" y="441.0" width="8.2" height="190.4" fill="#9c6642" />
<rect x="945.2" y="441.0" width="4.1" height="190.4" fill="#a56d47" opacity=".8"/>
<line x1="952.9" y1="441.0" x2="952.9" y2="631.4" stroke="#7d5032" stroke-width="1" opacity=".55"/>
<line x1="945.7" y1="441.0" x2="945.7" y2="631.4" stroke="#7d5032" stroke-width="1" opacity=".35"/>
<rect x="672.5" y="437.0" width="7.1" height="88.0" fill="#9c6642" />
<rect x="672.5" y="437.0" width="3.5" height="88.0" fill="#a56d47" opacity=".8"/>
<line x1="679.1" y1="437.0" x2="679.1" y2="525.0" stroke="#7d5032" stroke-width="1" opacity=".55"/>
<line x1="673.0" y1="437.0" x2="673.0" y2="525.0" stroke="#7d5032" stroke-width="1" opacity=".35"/>
<polygon points="679.0,441.9 885.0,446.0 885.0,450.6 679.0,444.3" fill="#e6cdb0" />
<polygon points="679.0,436.0 885.0,440.2 885.0,446.5 679.0,442.4" fill="#a26a45" />
<line x1="679.0" y1="436.6" x2="885.0" y2="440.8" stroke="#b9835a" stroke-width="1.1" opacity=".75"/>
<line x1="679.0" y1="441.9" x2="885.0" y2="446.0" stroke="#7d5032" stroke-width="1" opacity=".6"/>
<polygon points="638.0,366.4 914.0,365.4 914.0,372.5 638.0,373.6" fill="#a26a45" />
<line x1="638.0" y1="367.0" x2="914.0" y2="366.0" stroke="#b9835a" stroke-width="1.1" opacity=".75"/>
<line x1="638.0" y1="373.1" x2="914.0" y2="372.0" stroke="#7d5032" stroke-width="1" opacity=".6"/>
<polygon points="636.2,378.0 638.1,366.9 678.6,436.5 679.6,438.5 672.2,440.6" fill="#9a6440" />
<line x1="638.4" y1="368.4" x2="678.4" y2="437.2" stroke="#7d5032" stroke-width="1" opacity=".45"/>
<line x1="637.2" y1="373.4" x2="675.7" y2="439.0" stroke="#b9835a" stroke-width="1.2" opacity=".55"/>
<line x1="636.4" y1="378.2" x2="672.4" y2="440.8" stroke="#7d5032" stroke-width="1" opacity=".4"/>
<polygon points="587.4,441.7 632.7,364.2 638.1,364.2 638.1,366.9 636.2,378.0 597.8,441.7" fill="#a26a45" />
<line x1="587.9" y1="441.7" x2="633.1" y2="364.7" stroke="#7d5032" stroke-width="1" opacity=".45"/>
<line x1="592.4" y1="441.7" x2="635.4" y2="369.9" stroke="#b9835a" stroke-width="1.3" opacity=".5"/>
<line x1="597.4" y1="441.7" x2="635.9" y2="378.2" stroke="#7d5032" stroke-width="1" opacity=".4"/>
<polygon points="601.8,538.0 680.0,526.0 680.0,548.0 601.8,556.0" fill="#96603c" />
<rect x="679.6" y="504.0" width="5.2" height="26.0" fill="#a26a45" />
<rect x="679.6" y="504.0" width="2.6" height="26.0" fill="#a56d47" opacity=".8"/>
<line x1="684.3" y1="504.0" x2="684.3" y2="530.0" stroke="#7d5032" stroke-width="1" opacity=".55"/>
<line x1="680.1" y1="504.0" x2="680.1" y2="530.0" stroke="#7d5032" stroke-width="1" opacity=".35"/>
<polygon points="684.0,506.4 817.5,514.0 817.5,532.0 684.0,524.5" fill="#96613d" filter="url(#grain)"/>
<line x1="684.0" y1="506.4" x2="817.5" y2="514.0" stroke="#b9835a" stroke-width="1" opacity=".7"/>
<line x1="684.0" y1="524.5" x2="817.5" y2="532.0" stroke="#7d5032" stroke-width="1" opacity=".6"/>
<rect x="817.5" y="511.5" width="5.8" height="34.9" fill="#a26a45" />
<rect x="817.5" y="511.5" width="2.9" height="34.9" fill="#a56d47" opacity=".8"/>
<line x1="822.8" y1="511.5" x2="822.8" y2="546.4" stroke="#7d5032" stroke-width="1" opacity=".55"/>
<line x1="818.0" y1="511.5" x2="818.0" y2="546.4" stroke="#7d5032" stroke-width="1" opacity=".35"/>
<clipPath id="mclip3"><polygon points="602.6,552.6 674.8,536.1 917.0,553.5 876.1,572.0"/></clipPath>
<polygon points="602.6,552.6 674.8,536.1 917.0,553.5 876.1,572.0" fill="url(#matTop)" />
<g clip-path="url(#mclip3)">
<line x1="615.2" y1="554.4" x2="661.2" y2="539.2" stroke="#d9d2c6" stroke-width="1.6" opacity=".18"/>
<line x1="617.4" y1="554.4" x2="663.4" y2="539.2" stroke="#ffffff" stroke-width="2.0" opacity=".3"/>
<line x1="628.7" y1="555.3" x2="674.7" y2="540.1" stroke="#d9d2c6" stroke-width="1.6" opacity=".18"/>
<line x1="630.9" y1="555.3" x2="676.9" y2="540.1" stroke="#ffffff" stroke-width="2.0" opacity=".3"/>
<line x1="642.1" y1="556.2" x2="688.1" y2="541.0" stroke="#d9d2c6" stroke-width="1.6" opacity=".18"/>
<line x1="644.3" y1="556.2" x2="690.3" y2="541.0" stroke="#ffffff" stroke-width="2.0" opacity=".3"/>
<line x1="655.6" y1="557.1" x2="701.6" y2="541.9" stroke="#d9d2c6" stroke-width="1.6" opacity=".18"/>
<line x1="657.8" y1="557.1" x2="703.8" y2="541.9" stroke="#ffffff" stroke-width="2.0" opacity=".3"/>
<line x1="669.0" y1="558.0" x2="715.0" y2="542.9" stroke="#d9d2c6" stroke-width="1.6" opacity=".18"/>
<line x1="671.2" y1="558.0" x2="717.2" y2="542.9" stroke="#ffffff" stroke-width="2.0" opacity=".3"/>
<line x1="682.5" y1="558.9" x2="728.5" y2="543.8" stroke="#d9d2c6" stroke-width="1.6" opacity=".18"/>
<line x1="684.7" y1="558.9" x2="730.7" y2="543.8" stroke="#ffffff" stroke-width="2.0" opacity=".3"/>
<line x1="695.9" y1="559.8" x2="741.9" y2="544.7" stroke="#d9d2c6" stroke-width="1.6" opacity=".18"/>
<line x1="698.1" y1="559.8" x2="744.1" y2="544.7" stroke="#ffffff" stroke-width="2.0" opacity=".3"/>
<line x1="709.4" y1="560.8" x2="755.4" y2="545.6" stroke="#d9d2c6" stroke-width="1.6" opacity=".18"/>
<line x1="711.6" y1="560.8" x2="757.6" y2="545.6" stroke="#ffffff" stroke-width="2.0" opacity=".3"/>
<line x1="722.8" y1="561.7" x2="768.8" y2="546.5" stroke="#d9d2c6" stroke-width="1.6" opacity=".18"/>
<line x1="725.0" y1="561.7" x2="771.0" y2="546.5" stroke="#ffffff" stroke-width="2.0" opacity=".3"/>
<line x1="736.3" y1="562.6" x2="782.3" y2="547.4" stroke="#d9d2c6" stroke-width="1.6" opacity=".18"/>
<line x1="738.5" y1="562.6" x2="784.5" y2="547.4" stroke="#ffffff" stroke-width="2.0" opacity=".3"/>
<line x1="749.7" y1="563.5" x2="795.7" y2="548.3" stroke="#d9d2c6" stroke-width="1.6" opacity=".18"/>
<line x1="751.9" y1="563.5" x2="797.9" y2="548.3" stroke="#ffffff" stroke-width="2.0" opacity=".3"/>
<line x1="763.2" y1="564.4" x2="809.2" y2="549.2" stroke="#d9d2c6" stroke-width="1.6" opacity=".18"/>
<line x1="765.4" y1="564.4" x2="811.4" y2="549.2" stroke="#ffffff" stroke-width="2.0" opacity=".3"/>
<line x1="776.6" y1="565.3" x2="822.6" y2="550.1" stroke="#d9d2c6" stroke-width="1.6" opacity=".18"/>
<line x1="778.8" y1="565.3" x2="824.8" y2="550.1" stroke="#ffffff" stroke-width="2.0" opacity=".3"/>
<line x1="790.0" y1="566.2" x2="836.0" y2="551.0" stroke="#d9d2c6" stroke-width="1.6" opacity=".18"/>
<line x1="792.2" y1="566.2" x2="838.2" y2="551.0" stroke="#ffffff" stroke-width="2.0" opacity=".3"/>
<line x1="803.5" y1="567.1" x2="849.5" y2="551.9" stroke="#d9d2c6" stroke-width="1.6" opacity=".18"/>
<line x1="805.7" y1="567.1" x2="851.7" y2="551.9" stroke="#ffffff" stroke-width="2.0" opacity=".3"/>
<line x1="816.9" y1="568.0" x2="862.9" y2="552.8" stroke="#d9d2c6" stroke-width="1.6" opacity=".18"/>
<line x1="819.1" y1="568.0" x2="865.1" y2="552.8" stroke="#ffffff" stroke-width="2.0" opacity=".3"/>
<line x1="830.4" y1="568.9" x2="876.4" y2="553.7" stroke="#d9d2c6" stroke-width="1.6" opacity=".18"/>
<line x1="832.6" y1="568.9" x2="878.6" y2="553.7" stroke="#ffffff" stroke-width="2.0" opacity=".3"/>
<line x1="843.8" y1="569.8" x2="889.8" y2="554.6" stroke="#d9d2c6" stroke-width="1.6" opacity=".18"/>
<line x1="846.0" y1="569.8" x2="892.0" y2="554.6" stroke="#ffffff" stroke-width="2.0" opacity=".3"/>
<line x1="857.3" y1="570.7" x2="903.3" y2="555.6" stroke="#d9d2c6" stroke-width="1.6" opacity=".18"/>
<line x1="859.5" y1="570.7" x2="905.5" y2="555.6" stroke="#ffffff" stroke-width="2.0" opacity=".3"/>
<line x1="870.7" y1="571.6" x2="916.7" y2="556.5" stroke="#d9d2c6" stroke-width="1.6" opacity=".18"/>
<line x1="872.9" y1="571.6" x2="918.9" y2="556.5" stroke="#ffffff" stroke-width="2.0" opacity=".3"/>
<line x1="884.2" y1="572.5" x2="930.2" y2="557.4" stroke="#d9d2c6" stroke-width="1.6" opacity=".18"/>
<line x1="886.4" y1="572.5" x2="932.4" y2="557.4" stroke="#ffffff" stroke-width="2.0" opacity=".3"/>
<line x1="897.6" y1="573.5" x2="943.6" y2="558.3" stroke="#d9d2c6" stroke-width="1.6" opacity=".18"/>
<line x1="899.8" y1="573.5" x2="945.8" y2="558.3" stroke="#ffffff" stroke-width="2.0" opacity=".3"/>
</g>
<path d="M604.3,553.5 L876.1,572.0 L876.1,585.9 L603.8,561.7 Q600.3,557.6 604.3,553.5Z" fill="url(#matFace)"/>
<line x1="615.2" y1="554.7" x2="615.2" y2="562.6" stroke="#d3ccc0" stroke-width="1.5" opacity=".75"/>
<line x1="617.1" y1="554.7" x2="617.1" y2="562.6" stroke="#fdfcfa" stroke-width="2.0" opacity=".85"/>
<line x1="628.7" y1="555.6" x2="628.7" y2="563.8" stroke="#d3ccc0" stroke-width="1.5" opacity=".75"/>
<line x1="630.6" y1="555.6" x2="630.6" y2="563.8" stroke="#fdfcfa" stroke-width="2.0" opacity=".85"/>
<line x1="642.1" y1="556.5" x2="642.1" y2="565.0" stroke="#d3ccc0" stroke-width="1.5" opacity=".75"/>
<line x1="644.0" y1="556.5" x2="644.0" y2="565.0" stroke="#fdfcfa" stroke-width="2.0" opacity=".85"/>
<line x1="655.6" y1="557.4" x2="655.6" y2="566.1" stroke="#d3ccc0" stroke-width="1.5" opacity=".75"/>
<line x1="657.5" y1="557.4" x2="657.5" y2="566.1" stroke="#fdfcfa" stroke-width="2.0" opacity=".85"/>
<line x1="669.0" y1="558.3" x2="669.0" y2="567.3" stroke="#d3ccc0" stroke-width="1.5" opacity=".75"/>
<line x1="670.9" y1="558.3" x2="670.9" y2="567.3" stroke="#fdfcfa" stroke-width="2.0" opacity=".85"/>
<line x1="682.5" y1="559.2" x2="682.5" y2="568.5" stroke="#d3ccc0" stroke-width="1.5" opacity=".75"/>
<line x1="684.4" y1="559.2" x2="684.4" y2="568.5" stroke="#fdfcfa" stroke-width="2.0" opacity=".85"/>
<line x1="695.9" y1="560.1" x2="695.9" y2="569.7" stroke="#d3ccc0" stroke-width="1.5" opacity=".75"/>
<line x1="697.8" y1="560.1" x2="697.8" y2="569.7" stroke="#fdfcfa" stroke-width="2.0" opacity=".85"/>
<line x1="709.4" y1="561.1" x2="709.4" y2="570.9" stroke="#d3ccc0" stroke-width="1.5" opacity=".75"/>
<line x1="711.3" y1="561.1" x2="711.3" y2="570.9" stroke="#fdfcfa" stroke-width="2.0" opacity=".85"/>
<line x1="722.8" y1="562.0" x2="722.8" y2="572.1" stroke="#d3ccc0" stroke-width="1.5" opacity=".75"/>
<line x1="724.7" y1="562.0" x2="724.7" y2="572.1" stroke="#fdfcfa" stroke-width="2.0" opacity=".85"/>
<line x1="736.3" y1="562.9" x2="736.3" y2="573.3" stroke="#d3ccc0" stroke-width="1.5" opacity=".75"/>
<line x1="738.2" y1="562.9" x2="738.2" y2="573.3" stroke="#fdfcfa" stroke-width="2.0" opacity=".85"/>
<line x1="749.7" y1="563.8" x2="749.7" y2="574.4" stroke="#d3ccc0" stroke-width="1.5" opacity=".75"/>
<line x1="751.6" y1="563.8" x2="751.6" y2="574.4" stroke="#fdfcfa" stroke-width="2.0" opacity=".85"/>
<line x1="763.2" y1="564.7" x2="763.2" y2="575.6" stroke="#d3ccc0" stroke-width="1.5" opacity=".75"/>
<line x1="765.1" y1="564.7" x2="765.1" y2="575.6" stroke="#fdfcfa" stroke-width="2.0" opacity=".85"/>
<line x1="776.6" y1="565.6" x2="776.6" y2="576.8" stroke="#d3ccc0" stroke-width="1.5" opacity=".75"/>
<line x1="778.5" y1="565.6" x2="778.5" y2="576.8" stroke="#fdfcfa" stroke-width="2.0" opacity=".85"/>
<line x1="790.0" y1="566.5" x2="790.0" y2="578.0" stroke="#d3ccc0" stroke-width="1.5" opacity=".75"/>
<line x1="791.9" y1="566.5" x2="791.9" y2="578.0" stroke="#fdfcfa" stroke-width="2.0" opacity=".85"/>
<line x1="803.5" y1="567.4" x2="803.5" y2="579.2" stroke="#d3ccc0" stroke-width="1.5" opacity=".75"/>
<line x1="805.4" y1="567.4" x2="805.4" y2="579.2" stroke="#fdfcfa" stroke-width="2.0" opacity=".85"/>
<line x1="816.9" y1="568.3" x2="816.9" y2="580.4" stroke="#d3ccc0" stroke-width="1.5" opacity=".75"/>
<line x1="818.8" y1="568.3" x2="818.8" y2="580.4" stroke="#fdfcfa" stroke-width="2.0" opacity=".85"/>
<line x1="830.4" y1="569.2" x2="830.4" y2="581.6" stroke="#d3ccc0" stroke-width="1.5" opacity=".75"/>
<line x1="832.3" y1="569.2" x2="832.3" y2="581.6" stroke="#fdfcfa" stroke-width="2.0" opacity=".85"/>
<line x1="843.8" y1="570.1" x2="843.8" y2="582.8" stroke="#d3ccc0" stroke-width="1.5" opacity=".75"/>
<line x1="845.7" y1="570.1" x2="845.7" y2="582.8" stroke="#fdfcfa" stroke-width="2.0" opacity=".85"/>
<line x1="857.3" y1="571.0" x2="857.3" y2="583.9" stroke="#d3ccc0" stroke-width="1.5" opacity=".75"/>
<line x1="859.2" y1="571.0" x2="859.2" y2="583.9" stroke="#fdfcfa" stroke-width="2.0" opacity=".85"/>
<line x1="870.7" y1="571.9" x2="870.7" y2="585.1" stroke="#d3ccc0" stroke-width="1.5" opacity=".75"/>
<line x1="872.6" y1="571.9" x2="872.6" y2="585.1" stroke="#fdfcfa" stroke-width="2.0" opacity=".85"/>
<line x1="603.8" y1="561.0" x2="876.1" y2="585.2" stroke="#cfc7ba" stroke-width="1.4" opacity=".55"/>
<polygon points="888.5,441.2 946.0,442.6 946.0,450.0 888.5,448.4" fill="#a26a45" />
<line x1="888.5" y1="441.8" x2="946.0" y2="443.2" stroke="#b9835a" stroke-width="1.1" opacity=".75"/>
<line x1="888.5" y1="447.9" x2="946.0" y2="449.5" stroke="#7d5032" stroke-width="1" opacity=".6"/>
<polygon points="919.1,380.9 921.6,362.4 952.4,438.5 953.4,441.5 945.2,441.5 944.4,440.4" fill="#9a6440" />
<line x1="921.8" y1="363.4" x2="952.6" y2="439.5" stroke="#7d5032" stroke-width="1" opacity=".45"/>
<line x1="920.6" y1="371.9" x2="948.8" y2="439.5" stroke="#b9835a" stroke-width="1.2" opacity=".5"/>
<line x1="919.4" y1="381.4" x2="944.7" y2="440.7" stroke="#7d5032" stroke-width="1" opacity=".4"/>
<polygon points="889.3,561.7 945.2,547.4 945.2,631.4 889.3,655.0" fill="url(#sideGrad)" filter="url(#grain)"/>
<line x1="889.3" y1="561.7" x2="945.2" y2="547.4" stroke="#b9835a" stroke-width="1" opacity=".55"/>
<polygon points="593.6,441.2 882.0,450.0 882.0,457.6 593.6,449.4" fill="#a26a45" />
<line x1="593.6" y1="441.8" x2="882.0" y2="450.6" stroke="#b9835a" stroke-width="1.1" opacity=".75"/>
<line x1="593.6" y1="448.9" x2="882.0" y2="457.1" stroke="#7d5032" stroke-width="1" opacity=".6"/>
<rect x="587.4" y="441.2" width="8.2" height="185.1" fill="#9c6642" />
<rect x="587.4" y="441.2" width="4.1" height="185.1" fill="#a56d47" opacity=".8"/>
<line x1="595.1" y1="441.2" x2="595.1" y2="626.3" stroke="#7d5032" stroke-width="1" opacity=".55"/>
<line x1="587.9" y1="441.2" x2="587.9" y2="626.3" stroke="#7d5032" stroke-width="1" opacity=".35"/>
<polygon points="880.7,452.4 881.9,446.9 915.6,362.4 921.6,362.4 919.1,380.9 891.8,446.9 889.3,452.4" fill="#a26a45" />
<line x1="882.3" y1="447.2" x2="916.0" y2="362.9" stroke="#7d5032" stroke-width="1" opacity=".45"/>
<line x1="887.0" y1="447.2" x2="918.4" y2="368.9" stroke="#b9835a" stroke-width="1.3" opacity=".5"/>
<line x1="891.4" y1="447.2" x2="918.8" y2="380.9" stroke="#7d5032" stroke-width="1" opacity=".4"/>
<rect x="880.7" y="451.4" width="8.6" height="208.3" fill="#9c6642" />
<rect x="880.7" y="451.4" width="4.3" height="208.3" fill="#a56d47" opacity=".8"/>
<line x1="888.8" y1="451.4" x2="888.8" y2="659.7" stroke="#7d5032" stroke-width="1" opacity=".55"/>
<line x1="881.2" y1="451.4" x2="881.2" y2="659.7" stroke="#7d5032" stroke-width="1" opacity=".35"/>
<rect x="876.1" y="565.8" width="4.7" height="93.9" fill="#94603c" />
<line x1="876.6" y1="565.8" x2="876.6" y2="659.7" stroke="#7d5032" stroke-width="1" opacity=".4"/>
<polygon points="595.6,584.0 681.7,592.0 681.7,603.7 595.6,625.2" fill="url(#sideGrad)" filter="url(#grain)"/>
<polygon points="595.6,561.5 876.1,586.3 876.1,610.9 595.6,584.3" fill="url(#frontGrad)" filter="url(#grain)"/>
<line x1="595.6" y1="561.5" x2="876.1" y2="586.3" stroke="#b9835a" stroke-width="1.2" opacity=".8"/>
<line x1="595.6" y1="584.6" x2="876.1" y2="611.2" stroke="#6c4327" stroke-width="1.0" opacity=".6"/>
<rect x="595.6" y="516.6" width="6.2" height="54.4" fill="#96613d" />
<line x1="601.4" y1="516.6" x2="601.4" y2="571.0" stroke="#7d5032" stroke-width="0.9" opacity=".5"/>
<polygon points="601.8,518.7 741.7,526.5 741.7,548.4 601.8,538.2" fill="url(#frontGrad)" filter="url(#grain)"/>
<line x1="601.8" y1="518.7" x2="741.7" y2="526.5" stroke="#b9835a" stroke-width="1.1" opacity=".8"/>
<line x1="601.8" y1="538.2" x2="741.7" y2="548.4" stroke="#7d5032" stroke-width="1" opacity=".6"/>
<rect x="741.7" y="526.9" width="7.0" height="57.4" fill="#a36b46" />
<line x1="748.2" y1="526.9" x2="748.2" y2="584.3" stroke="#7d5032" stroke-width="1" opacity=".55"/>
<line x1="742.2" y1="529.9" x2="742.2" y2="584.3" stroke="#7d5032" stroke-width="0.9" opacity=".35"/>
<polygon points="601.8,538.8 616.0,539.9 608.0,541.2 601.8,542.2" fill="#fbf8f5" />
</g>
<g>
<polygon points="326.0,918.0 602.0,948.0 616.0,955.0 674.0,930.0 674.0,936.0 614.0,962.0 470.0,950.0 326.0,925.0" fill="#bdbdbd" opacity="0.32" filter="url(#b3)"/>
<rect x="671.7" y="740.0" width="8.2" height="190.4" fill="#9c6642" />
<rect x="671.7" y="740.0" width="4.1" height="190.4" fill="#a56d47" opacity=".8"/>
<line x1="679.4" y1="740.0" x2="679.4" y2="930.4" stroke="#7d5032" stroke-width="1" opacity=".55"/>
<line x1="672.2" y1="740.0" x2="672.2" y2="930.4" stroke="#7d5032" stroke-width="1" opacity=".35"/>
<rect x="398.0" y="737.0" width="8.0" height="86.0" fill="#9c6642" />
<rect x="398.0" y="737.0" width="4.0" height="86.0" fill="#a56d47" opacity=".8"/>
<line x1="405.5" y1="737.0" x2="405.5" y2="823.0" stroke="#7d5032" stroke-width="1" opacity=".55"/>
<line x1="398.5" y1="737.0" x2="398.5" y2="823.0" stroke="#7d5032" stroke-width="1" opacity=".35"/>
<polygon points="405.5,740.1 610.5,744.8 610.5,749.0 405.5,742.9" fill="#e6cdb0" />
<polygon points="405.5,734.0 610.5,739.1 610.5,745.3 405.5,740.6" fill="#a26a45" />
<line x1="405.5" y1="734.6" x2="610.5" y2="739.7" stroke="#b9835a" stroke-width="1.1" opacity=".75"/>
<line x1="405.5" y1="740.1" x2="610.5" y2="744.8" stroke="#7d5032" stroke-width="1" opacity=".6"/>
<polygon points="363.0,664.8 640.5,663.3 640.5,670.5 363.0,672.1" fill="#a26a45" />
<line x1="363.0" y1="665.4" x2="640.5" y2="663.9" stroke="#b9835a" stroke-width="1.1" opacity=".75"/>
<line x1="363.0" y1="671.6" x2="640.5" y2="670.0" stroke="#7d5032" stroke-width="1" opacity=".6"/>
<polygon points="361.5,676.8 363.4,665.7 405.0,736.5 406.0,738.5 397.7,740.6" fill="#9a6440" />
<line x1="363.7" y1="667.2" x2="404.8" y2="737.2" stroke="#7d5032" stroke-width="1" opacity=".45"/>
<line x1="362.5" y1="672.2" x2="401.2" y2="739.0" stroke="#b9835a" stroke-width="1.2" opacity=".55"/>
<line x1="361.7" y1="677.0" x2="397.9" y2="740.8" stroke="#7d5032" stroke-width="1" opacity=".4"/>
<polygon points="312.3,740.7 358.0,663.0 363.4,663.0 363.4,665.7 361.5,676.8 322.7,740.7" fill="#a26a45" />
<line x1="312.8" y1="740.7" x2="358.4" y2="663.5" stroke="#7d5032" stroke-width="1" opacity=".45"/>
<line x1="317.3" y1="740.7" x2="360.7" y2="668.7" stroke="#b9835a" stroke-width="1.3" opacity=".5"/>
<line x1="322.3" y1="740.7" x2="361.2" y2="677.0" stroke="#7d5032" stroke-width="1" opacity=".4"/>
<polygon points="327.0,836.0 405.0,824.0 405.0,846.0 327.0,854.0" fill="#96603c" />
<rect x="404.5" y="802.3" width="6.2" height="25.7" fill="#a26a45" />
<rect x="404.5" y="802.3" width="3.1" height="25.7" fill="#a56d47" opacity=".8"/>
<line x1="410.2" y1="802.3" x2="410.2" y2="828.0" stroke="#7d5032" stroke-width="1" opacity=".55"/>
<line x1="405.0" y1="802.3" x2="405.0" y2="828.0" stroke="#7d5032" stroke-width="1" opacity=".35"/>
<polygon points="410.0,804.3 543.4,810.5 543.4,831.0 410.0,822.0" fill="#96613d" filter="url(#grain)"/>
<line x1="410.0" y1="804.3" x2="543.4" y2="810.5" stroke="#b9835a" stroke-width="1" opacity=".7"/>
<line x1="410.0" y1="822.0" x2="543.4" y2="831.0" stroke="#7d5032" stroke-width="1" opacity=".6"/>
<rect x="543.4" y="810.1" width="5.8" height="34.8" fill="#a26a45" />
<rect x="543.4" y="810.1" width="2.9" height="34.8" fill="#a56d47" opacity=".8"/>
<line x1="548.7" y1="810.1" x2="548.7" y2="844.9" stroke="#7d5032" stroke-width="1" opacity=".55"/>
<line x1="543.9" y1="810.1" x2="543.9" y2="844.9" stroke="#7d5032" stroke-width="1" opacity=".35"/>
<clipPath id="mclip4"><polygon points="328.2,850.6 401.5,834.9 635.2,852.5 601.8,872.0"/></clipPath>
<polygon points="328.2,850.6 401.5,834.9 635.2,852.5 601.8,872.0" fill="url(#matTop)" />
<g clip-path="url(#mclip4)">
<line x1="341.1" y1="852.1" x2="387.1" y2="836.9" stroke="#d9d2c6" stroke-width="1.6" opacity=".18"/>
<line x1="343.3" y1="852.1" x2="389.3" y2="836.9" stroke="#ffffff" stroke-width="2.0" opacity=".3"/>
<line x1="354.6" y1="853.1" x2="400.6" y2="838.0" stroke="#d9d2c6" stroke-width="1.6" opacity=".18"/>
<line x1="356.8" y1="853.1" x2="402.8" y2="838.0" stroke="#ffffff" stroke-width="2.0" opacity=".3"/>
<line x1="368.0" y1="854.2" x2="414.0" y2="839.0" stroke="#d9d2c6" stroke-width="1.6" opacity=".18"/>
<line x1="370.2" y1="854.2" x2="416.2" y2="839.0" stroke="#ffffff" stroke-width="2.0" opacity=".3"/>
<line x1="381.4" y1="855.2" x2="427.4" y2="840.0" stroke="#d9d2c6" stroke-width="1.6" opacity=".18"/>
<line x1="383.6" y1="855.2" x2="429.6" y2="840.0" stroke="#ffffff" stroke-width="2.0" opacity=".3"/>
<line x1="394.9" y1="856.2" x2="440.9" y2="841.0" stroke="#d9d2c6" stroke-width="1.6" opacity=".18"/>
<line x1="397.1" y1="856.2" x2="443.1" y2="841.0" stroke="#ffffff" stroke-width="2.0" opacity=".3"/>
<line x1="408.3" y1="857.2" x2="454.3" y2="842.1" stroke="#d9d2c6" stroke-width="1.6" opacity=".18"/>
<line x1="410.5" y1="857.2" x2="456.5" y2="842.1" stroke="#ffffff" stroke-width="2.0" opacity=".3"/>
<line x1="421.8" y1="858.3" x2="467.8" y2="843.1" stroke="#d9d2c6" stroke-width="1.6" opacity=".18"/>
<line x1="424.0" y1="858.3" x2="470.0" y2="843.1" stroke="#ffffff" stroke-width="2.0" opacity=".3"/>
<line x1="435.2" y1="859.3" x2="481.2" y2="844.1" stroke="#d9d2c6" stroke-width="1.6" opacity=".18"/>
<line x1="437.4" y1="859.3" x2="483.4" y2="844.1" stroke="#ffffff" stroke-width="2.0" opacity=".3"/>
<line x1="448.6" y1="860.3" x2="494.6" y2="845.1" stroke="#d9d2c6" stroke-width="1.6" opacity=".18"/>
<line x1="450.8" y1="860.3" x2="496.8" y2="845.1" stroke="#ffffff" stroke-width="2.0" opacity=".3"/>
<line x1="462.1" y1="861.3" x2="508.1" y2="846.2" stroke="#d9d2c6" stroke-width="1.6" opacity=".18"/>
<line x1="464.3" y1="861.3" x2="510.3" y2="846.2" stroke="#ffffff" stroke-width="2.0" opacity=".3"/>
<line x1="475.5" y1="862.4" x2="521.5" y2="847.2" stroke="#d9d2c6" stroke-width="1.6" opacity=".18"/>
<line x1="477.7" y1="862.4" x2="523.7" y2="847.2" stroke="#ffffff" stroke-width="2.0" opacity=".3"/>
<line x1="488.9" y1="863.4" x2="534.9" y2="848.2" stroke="#d9d2c6" stroke-width="1.6" opacity=".18"/>
<line x1="491.1" y1="863.4" x2="537.1" y2="848.2" stroke="#ffffff" stroke-width="2.0" opacity=".3"/>
<line x1="502.4" y1="864.4" x2="548.4" y2="849.2" stroke="#d9d2c6" stroke-width="1.6" opacity=".18"/>
<line x1="504.6" y1="864.4" x2="550.6" y2="849.2" stroke="#ffffff" stroke-width="2.0" opacity=".3"/>
<line x1="515.8" y1="865.4" x2="561.8" y2="850.3" stroke="#d9d2c6" stroke-width="1.6" opacity=".18"/>
<line x1="518.0" y1="865.4" x2="564.0" y2="850.3" stroke="#ffffff" stroke-width="2.0" opacity=".3"/>
<line x1="529.2" y1="866.5" x2="575.2" y2="851.3" stroke="#d9d2c6" stroke-width="1.6" opacity=".18"/>
<line x1="531.4" y1="866.5" x2="577.4" y2="851.3" stroke="#ffffff" stroke-width="2.0" opacity=".3"/>
<line x1="542.7" y1="867.5" x2="588.7" y2="852.3" stroke="#d9d2c6" stroke-width="1.6" opacity=".18"/>
<line x1="544.9" y1="867.5" x2="590.9" y2="852.3" stroke="#ffffff" stroke-width="2.0" opacity=".3"/>
<line x1="556.1" y1="868.5" x2="602.1" y2="853.3" stroke="#d9d2c6" stroke-width="1.6" opacity=".18"/>
<line x1="558.3" y1="868.5" x2="604.3" y2="853.3" stroke="#ffffff" stroke-width="2.0" opacity=".3"/>
<line x1="569.6" y1="869.5" x2="615.6" y2="854.4" stroke="#d9d2c6" stroke-width="1.6" opacity=".18"/>
<line x1="571.8" y1="869.5" x2="617.8" y2="854.4" stroke="#ffffff" stroke-width="2.0" opacity=".3"/>
<line x1="583.0" y1="870.6" x2="629.0" y2="855.4" stroke="#d9d2c6" stroke-width="1.6" opacity=".18"/>
<line x1="585.2" y1="870.6" x2="631.2" y2="855.4" stroke="#ffffff" stroke-width="2.0" opacity=".3"/>
<line x1="596.4" y1="871.6" x2="642.4" y2="856.4" stroke="#d9d2c6" stroke-width="1.6" opacity=".18"/>
<line x1="598.6" y1="871.6" x2="644.6" y2="856.4" stroke="#ffffff" stroke-width="2.0" opacity=".3"/>
<line x1="609.9" y1="872.6" x2="655.9" y2="857.4" stroke="#d9d2c6" stroke-width="1.6" opacity=".18"/>
<line x1="612.1" y1="872.6" x2="658.1" y2="857.4" stroke="#ffffff" stroke-width="2.0" opacity=".3"/>
<line x1="623.3" y1="873.6" x2="669.3" y2="858.5" stroke="#d9d2c6" stroke-width="1.6" opacity=".18"/>
<line x1="625.5" y1="873.6" x2="671.5" y2="858.5" stroke="#ffffff" stroke-width="2.0" opacity=".3"/>
</g>
<path d="M330.2,851.1 L601.8,872.0 L601.8,885.3 L328.6,860.7 Q325.1,855.9 330.2,851.1Z" fill="url(#matFace)"/>
<line x1="341.1" y1="852.4" x2="341.1" y2="861.6" stroke="#d3ccc0" stroke-width="1.5" opacity=".75"/>
<line x1="343.0" y1="852.4" x2="343.0" y2="861.6" stroke="#fdfcfa" stroke-width="2.0" opacity=".85"/>
<line x1="354.6" y1="853.4" x2="354.6" y2="862.8" stroke="#d3ccc0" stroke-width="1.5" opacity=".75"/>
<line x1="356.5" y1="853.4" x2="356.5" y2="862.8" stroke="#fdfcfa" stroke-width="2.0" opacity=".85"/>
<line x1="368.0" y1="854.5" x2="368.0" y2="864.0" stroke="#d3ccc0" stroke-width="1.5" opacity=".75"/>
<line x1="369.9" y1="854.5" x2="369.9" y2="864.0" stroke="#fdfcfa" stroke-width="2.0" opacity=".85"/>
<line x1="381.4" y1="855.5" x2="381.4" y2="865.2" stroke="#d3ccc0" stroke-width="1.5" opacity=".75"/>
<line x1="383.3" y1="855.5" x2="383.3" y2="865.2" stroke="#fdfcfa" stroke-width="2.0" opacity=".85"/>
<line x1="394.9" y1="856.5" x2="394.9" y2="866.4" stroke="#d3ccc0" stroke-width="1.5" opacity=".75"/>
<line x1="396.8" y1="856.5" x2="396.8" y2="866.4" stroke="#fdfcfa" stroke-width="2.0" opacity=".85"/>
<line x1="408.3" y1="857.5" x2="408.3" y2="867.6" stroke="#d3ccc0" stroke-width="1.5" opacity=".75"/>
<line x1="410.2" y1="857.5" x2="410.2" y2="867.6" stroke="#fdfcfa" stroke-width="2.0" opacity=".85"/>
<line x1="421.8" y1="858.6" x2="421.8" y2="868.8" stroke="#d3ccc0" stroke-width="1.5" opacity=".75"/>
<line x1="423.7" y1="858.6" x2="423.7" y2="868.8" stroke="#fdfcfa" stroke-width="2.0" opacity=".85"/>
<line x1="435.2" y1="859.6" x2="435.2" y2="870.0" stroke="#d3ccc0" stroke-width="1.5" opacity=".75"/>
<line x1="437.1" y1="859.6" x2="437.1" y2="870.0" stroke="#fdfcfa" stroke-width="2.0" opacity=".85"/>
<line x1="448.6" y1="860.6" x2="448.6" y2="871.3" stroke="#d3ccc0" stroke-width="1.5" opacity=".75"/>
<line x1="450.5" y1="860.6" x2="450.5" y2="871.3" stroke="#fdfcfa" stroke-width="2.0" opacity=".85"/>
<line x1="462.1" y1="861.6" x2="462.1" y2="872.5" stroke="#d3ccc0" stroke-width="1.5" opacity=".75"/>
<line x1="464.0" y1="861.6" x2="464.0" y2="872.5" stroke="#fdfcfa" stroke-width="2.0" opacity=".85"/>
<line x1="475.5" y1="862.7" x2="475.5" y2="873.7" stroke="#d3ccc0" stroke-width="1.5" opacity=".75"/>
<line x1="477.4" y1="862.7" x2="477.4" y2="873.7" stroke="#fdfcfa" stroke-width="2.0" opacity=".85"/>
<line x1="488.9" y1="863.7" x2="488.9" y2="874.9" stroke="#d3ccc0" stroke-width="1.5" opacity=".75"/>
<line x1="490.8" y1="863.7" x2="490.8" y2="874.9" stroke="#fdfcfa" stroke-width="2.0" opacity=".85"/>
<line x1="502.4" y1="864.7" x2="502.4" y2="876.1" stroke="#d3ccc0" stroke-width="1.5" opacity=".75"/>
<line x1="504.3" y1="864.7" x2="504.3" y2="876.1" stroke="#fdfcfa" stroke-width="2.0" opacity=".85"/>
<line x1="515.8" y1="865.7" x2="515.8" y2="877.3" stroke="#d3ccc0" stroke-width="1.5" opacity=".75"/>
<line x1="517.7" y1="865.7" x2="517.7" y2="877.3" stroke="#fdfcfa" stroke-width="2.0" opacity=".85"/>
<line x1="529.2" y1="866.8" x2="529.2" y2="878.5" stroke="#d3ccc0" stroke-width="1.5" opacity=".75"/>
<line x1="531.1" y1="866.8" x2="531.1" y2="878.5" stroke="#fdfcfa" stroke-width="2.0" opacity=".85"/>
<line x1="542.7" y1="867.8" x2="542.7" y2="879.7" stroke="#d3ccc0" stroke-width="1.5" opacity=".75"/>
<line x1="544.6" y1="867.8" x2="544.6" y2="879.7" stroke="#fdfcfa" stroke-width="2.0" opacity=".85"/>
<line x1="556.1" y1="868.8" x2="556.1" y2="880.9" stroke="#d3ccc0" stroke-width="1.5" opacity=".75"/>
<line x1="558.0" y1="868.8" x2="558.0" y2="880.9" stroke="#fdfcfa" stroke-width="2.0" opacity=".85"/>
<line x1="569.6" y1="869.8" x2="569.6" y2="882.1" stroke="#d3ccc0" stroke-width="1.5" opacity=".75"/>
<line x1="571.5" y1="869.8" x2="571.5" y2="882.1" stroke="#fdfcfa" stroke-width="2.0" opacity=".85"/>
<line x1="583.0" y1="870.9" x2="583.0" y2="883.3" stroke="#d3ccc0" stroke-width="1.5" opacity=".75"/>
<line x1="584.9" y1="870.9" x2="584.9" y2="883.3" stroke="#fdfcfa" stroke-width="2.0" opacity=".85"/>
<line x1="596.4" y1="871.9" x2="596.4" y2="884.5" stroke="#d3ccc0" stroke-width="1.5" opacity=".75"/>
<line x1="598.3" y1="871.9" x2="598.3" y2="884.5" stroke="#fdfcfa" stroke-width="2.0" opacity=".85"/>
<line x1="328.6" y1="860.0" x2="601.8" y2="884.6" stroke="#cfc7ba" stroke-width="1.4" opacity=".55"/>
<polygon points="614.5,739.8 672.5,741.2 672.5,748.2 614.5,746.7" fill="#a26a45" />
<line x1="614.5" y1="740.4" x2="672.5" y2="741.8" stroke="#b9835a" stroke-width="1.1" opacity=".75"/>
<line x1="614.5" y1="746.2" x2="672.5" y2="747.7" stroke="#7d5032" stroke-width="1" opacity=".6"/>
<polygon points="645.0,679.2 647.5,660.7 678.9,737.5 679.9,740.5 671.7,740.5 670.9,739.4" fill="#9a6440" />
<line x1="647.7" y1="661.7" x2="679.1" y2="738.5" stroke="#7d5032" stroke-width="1" opacity=".45"/>
<line x1="646.5" y1="670.2" x2="675.3" y2="738.5" stroke="#b9835a" stroke-width="1.2" opacity=".5"/>
<line x1="645.3" y1="679.7" x2="671.2" y2="739.7" stroke="#7d5032" stroke-width="1" opacity=".4"/>
<polygon points="615.2,860.7 671.7,845.7 671.7,929.8 615.2,953.9" fill="url(#sideGrad)" filter="url(#grain)"/>
<line x1="615.2" y1="860.7" x2="671.7" y2="845.7" stroke="#b9835a" stroke-width="1" opacity=".55"/>
<polygon points="319.5,739.8 608.0,748.4 608.0,756.1 319.5,747.3" fill="#a26a45" />
<line x1="319.5" y1="740.4" x2="608.0" y2="749.0" stroke="#b9835a" stroke-width="1.1" opacity=".75"/>
<line x1="319.5" y1="746.8" x2="608.0" y2="755.6" stroke="#7d5032" stroke-width="1" opacity=".6"/>
<rect x="312.3" y="740.2" width="8.2" height="184.6" fill="#9c6642" />
<rect x="312.3" y="740.2" width="4.1" height="184.6" fill="#a56d47" opacity=".8"/>
<line x1="320.0" y1="740.2" x2="320.0" y2="924.8" stroke="#7d5032" stroke-width="1" opacity=".55"/>
<line x1="312.8" y1="740.2" x2="312.8" y2="924.8" stroke="#7d5032" stroke-width="1" opacity=".35"/>
<polygon points="606.6,750.4 607.8,744.9 641.5,660.7 647.5,660.7 645.0,679.2 617.7,744.9 615.2,750.4" fill="#a26a45" />
<line x1="608.2" y1="745.2" x2="641.9" y2="661.2" stroke="#7d5032" stroke-width="1" opacity=".45"/>
<line x1="612.9" y1="745.2" x2="644.3" y2="667.2" stroke="#b9835a" stroke-width="1.3" opacity=".5"/>
<line x1="617.3" y1="745.2" x2="644.7" y2="679.2" stroke="#7d5032" stroke-width="1" opacity=".4"/>
<rect x="606.6" y="749.4" width="8.6" height="209.7" fill="#9c6642" />
<rect x="606.6" y="749.4" width="4.3" height="209.7" fill="#a56d47" opacity=".8"/>
<line x1="614.7" y1="749.4" x2="614.7" y2="959.1" stroke="#7d5032" stroke-width="1" opacity=".55"/>
<line x1="607.1" y1="749.4" x2="607.1" y2="959.1" stroke="#7d5032" stroke-width="1" opacity=".35"/>
<rect x="601.8" y="864.8" width="4.9" height="93.2" fill="#94603c" />
<line x1="602.3" y1="864.8" x2="602.3" y2="958.0" stroke="#7d5032" stroke-width="1" opacity=".4"/>
<ellipse cx="331.8" cy="922.6" rx="3.2" ry="2.6" fill="#a9a9ab"/><ellipse cx="332.4" cy="922.2" rx="1.6" ry="1.3" fill="#d8d8da"/>
<ellipse cx="596.0" cy="951.6" rx="3.2" ry="2.6" fill="#a9a9ab"/><ellipse cx="596.6" cy="951.2" rx="1.6" ry="1.3" fill="#d8d8da"/>
<polygon points="320.5,875.6 601.8,901.2 601.8,948.9 320.5,919.1" fill="url(#drawGrad)" filter="url(#grain)"/>
<polygon points="320.5,861.2 601.8,885.9 601.8,901.7 320.5,876.1" fill="url(#frontGrad)" filter="url(#grain)"/>
<line x1="320.5" y1="861.2" x2="601.8" y2="885.9" stroke="#b9835a" stroke-width="1.2" opacity=".8"/>
<line x1="320.5" y1="876.4" x2="601.8" y2="902.0" stroke="#6c4327" stroke-width="1.8" opacity=".6"/>
<rect x="320.5" y="814.6" width="6.5" height="56.3" fill="#96613d" />
<line x1="326.6" y1="814.6" x2="326.6" y2="870.9" stroke="#7d5032" stroke-width="0.9" opacity=".5"/>
<polygon points="327.0,817.3 468.0,825.0 468.0,846.4 327.0,836.7" fill="url(#frontGrad)" filter="url(#grain)"/>
<line x1="327.0" y1="817.3" x2="468.0" y2="825.0" stroke="#b9835a" stroke-width="1.1" opacity=".8"/>
<line x1="327.0" y1="836.7" x2="468.0" y2="846.4" stroke="#7d5032" stroke-width="1" opacity=".6"/>
<rect x="468.0" y="822.8" width="6.6" height="59.4" fill="#a36b46" />
<line x1="474.1" y1="822.8" x2="474.1" y2="882.2" stroke="#7d5032" stroke-width="1" opacity=".55"/>
<line x1="468.5" y1="825.8" x2="468.5" y2="882.2" stroke="#7d5032" stroke-width="0.9" opacity=".35"/>
<polygon points="327.0,837.4 341.5,838.4 333.5,839.8 327.0,840.8" fill="#fbf8f5" />
</g>
<polygon points="211.9,320.1 212.3,319.8 212.6,319.4 213.0,318.9 213.3,318.4 213.6,317.8 214.0,317.2 214.3,316.5 214.7,315.8 215.1,315.1 215.5,314.3 215.9,313.6 216.3,312.8 216.8,312.0 217.3,311.2 217.7,310.4 218.2,309.5 218.7,308.7 219.2,307.8 219.8,306.9 220.4,305.9 221.0,304.9 221.7,303.9 222.4,302.7 223.1,301.5 224.0,300.1 225.0,298.6 226.0,297.1 227.1,295.4 228.3,293.8 229.5,292.0 230.8,290.3 232.0,288.6 233.3,286.9 234.6,285.2 235.9,283.6 237.1,282.1 238.4,280.6 239.7,279.1 241.0,277.6 242.3,276.1 243.7,274.7 245.0,273.3 246.4,271.9 247.8,270.5 249.2,269.1 250.6,267.8 252.0,266.5 253.4,265.2 254.9,263.9 256.4,262.6 258.0,261.3 259.6,260.0 261.2,258.8 262.9,257.5 264.5,256.3 266.1,255.2 267.6,254.1 269.0,253.1 270.3,252.1 271.6,251.3 272.6,250.5 273.7,249.9 274.6,249.3 275.6,248.7 276.4,248.3 277.2,247.8 277.9,247.4 278.6,247.1 279.3,246.8 279.9,246.5 280.4,246.2 280.9,245.9 278.1,240.9 277.7,241.1 277.2,241.3 276.7,241.6 276.0,241.9 275.3,242.3 274.5,242.7 273.6,243.2 272.7,243.7 271.6,244.3 270.6,245.0 269.4,245.7 268.2,246.5 267.0,247.4 265.6,248.4 264.2,249.4 262.6,250.5 261.0,251.7 259.4,252.9 257.7,254.2 256.0,255.5 254.4,256.8 252.7,258.1 251.1,259.5 249.6,260.8 248.1,262.2 246.6,263.5 245.2,264.9 243.7,266.3 242.3,267.8 240.9,269.2 239.4,270.7 238.1,272.2 236.7,273.7 235.3,275.2 234.0,276.8 232.7,278.3 231.3,280.0 230.0,281.6 228.7,283.4 227.4,285.1 226.1,286.9 224.8,288.7 223.6,290.4 222.4,292.2 221.2,293.8 220.2,295.4 219.2,296.9 218.3,298.3 217.4,299.7 216.7,300.9 216.0,302.2 215.5,303.4 215.0,304.5 214.6,305.6 214.2,306.6 213.8,307.6 213.5,308.5 213.2,309.4 212.9,310.3 212.7,311.2 212.4,312.1 212.1,313.0 211.9,313.9 211.7,314.7 211.5,315.5 211.4,316.3 211.3,317.1 211.2,317.7 211.1,318.4 211.1,318.9 211.2,319.4 211.3,319.9" fill="#4b5f8a"/>
<polygon points="288.4,236.4 260.0,235.2 268.5,241.0 274.0,243.2 279.5,250.0 276.7,255.5 280.6,260.2" fill="#4b5f8a"/>
<polygon points="698.2,244.2 698.3,244.7 698.5,245.1 698.7,245.6 699.0,246.1 699.4,246.6 699.8,247.2 700.3,247.7 700.8,248.4 701.3,249.0 701.9,249.7 702.6,250.4 703.3,251.2 704.0,252.0 704.9,252.9 705.8,253.8 706.7,254.7 707.7,255.6 708.7,256.6 709.7,257.6 710.7,258.6 711.8,259.7 712.8,260.7 713.8,261.7 714.8,262.7 715.8,263.8 716.8,264.9 717.8,266.0 718.8,267.1 719.8,268.3 720.8,269.5 721.8,270.7 722.8,272.0 723.8,273.2 724.8,274.5 725.9,275.9 726.9,277.2 727.9,278.6 728.9,280.1 730.0,281.5 731.1,283.1 732.1,284.6 733.2,286.2 734.2,287.7 735.2,289.3 736.2,290.8 737.2,292.4 738.1,293.9 739.0,295.4 739.8,296.8 740.6,298.3 741.4,299.7 742.2,301.1 742.9,302.6 743.6,304.0 744.3,305.4 744.9,306.8 745.6,308.2 746.2,309.6 746.8,311.0 747.4,312.4 748.0,313.7 748.6,315.2 749.2,316.7 749.8,318.2 750.3,319.7 750.9,321.2 751.4,322.6 751.8,323.9 752.3,325.2 752.7,326.3 753.0,327.2 753.3,328.0 758.7,326.0 758.5,325.3 758.1,324.3 757.7,323.2 757.3,322.0 756.8,320.6 756.3,319.2 755.8,317.7 755.2,316.1 754.6,314.6 754.0,313.0 753.4,311.5 752.8,310.0 752.1,308.6 751.5,307.2 750.9,305.8 750.2,304.4 749.5,302.9 748.8,301.4 748.1,300.0 747.3,298.5 746.5,297.0 745.7,295.5 744.9,294.0 744.0,292.4 743.1,290.9 742.1,289.3 741.1,287.7 740.1,286.1 739.1,284.5 738.0,282.9 736.9,281.3 735.8,279.8 734.7,278.2 733.6,276.7 732.6,275.2 731.5,273.8 730.5,272.4 729.5,271.0 728.4,269.7 727.4,268.4 726.3,267.1 725.3,265.8 724.2,264.5 723.2,263.3 722.1,262.1 721.1,261.0 720.0,259.8 719.0,258.7 717.9,257.6 716.8,256.5 715.6,255.5 714.4,254.5 713.2,253.6 712.1,252.7 710.9,251.8 709.8,251.0 708.7,250.2 707.7,249.5 706.8,248.8 705.9,248.2 705.1,247.6 704.4,247.0 703.6,246.5 702.9,246.0 702.3,245.6 701.7,245.2 701.1,244.8 700.5,244.5 700.0,244.2 699.5,244.0 699.1,243.8 698.6,243.8" fill="#4b5f8a"/>
<polygon points="759.9,339.6 739.4,325.8 746.5,324.3 752.5,326.5 760.5,323.5 763.4,318.0 768.7,312.0" fill="#4b5f8a"/>
<polygon points="782.0,684.5 781.6,684.9 781.2,685.4 780.8,686.0 780.5,686.6 780.1,687.4 779.7,688.1 779.2,689.0 778.8,689.9 778.3,690.8 777.8,691.8 777.2,692.7 776.7,693.7 776.0,694.8 775.4,696.0 774.7,697.2 774.0,698.4 773.2,699.7 772.4,701.0 771.6,702.4 770.8,703.7 770.0,705.0 769.1,706.4 768.3,707.7 767.5,709.0 766.6,710.3 765.7,711.6 764.8,713.0 763.9,714.3 762.9,715.6 761.9,716.9 760.9,718.2 759.9,719.5 758.8,720.8 757.7,722.1 756.6,723.4 755.5,724.6 754.3,725.9 753.1,727.1 751.8,728.4 750.5,729.6 749.2,730.9 747.8,732.1 746.4,733.3 745.1,734.5 743.7,735.7 742.4,736.9 741.0,738.0 739.7,739.1 738.5,740.1 737.2,741.1 736.0,742.1 734.7,743.1 733.4,744.1 732.2,745.0 730.9,745.9 729.7,746.8 728.5,747.6 727.4,748.5 726.3,749.3 725.2,750.0 724.2,750.8 723.1,751.5 722.1,752.2 721.1,752.9 720.1,753.6 719.2,754.2 718.3,754.8 717.4,755.4 716.7,755.9 716.0,756.4 715.4,756.8 714.9,757.1 718.1,761.9 718.6,761.6 719.2,761.2 719.9,760.7 720.6,760.2 721.5,759.7 722.4,759.1 723.4,758.4 724.4,757.7 725.4,757.0 726.5,756.3 727.5,755.5 728.6,754.8 729.7,754.0 730.8,753.2 731.9,752.3 733.1,751.5 734.4,750.6 735.6,749.7 736.9,748.7 738.2,747.7 739.5,746.7 740.8,745.7 742.2,744.6 743.5,743.5 744.8,742.4 746.1,741.3 747.5,740.1 748.9,738.9 750.3,737.7 751.7,736.4 753.1,735.1 754.5,733.8 755.8,732.5 757.2,731.2 758.5,729.9 759.7,728.6 760.9,727.2 762.1,725.9 763.2,724.5 764.4,723.2 765.5,721.8 766.5,720.4 767.6,719.1 768.6,717.7 769.5,716.3 770.5,714.9 771.4,713.5 772.3,712.2 773.2,710.8 774.1,709.3 774.9,707.9 775.6,706.4 776.3,704.9 777.0,703.4 777.7,702.0 778.3,700.6 778.9,699.2 779.4,697.9 779.9,696.6 780.3,695.5 780.7,694.3 781.1,693.2 781.5,692.1 781.8,691.0 782.0,690.0 782.2,689.1 782.4,688.2 782.5,687.3 782.6,686.6 782.7,685.9 782.7,685.3 782.6,684.7" fill="#4b5f8a"/>
<polygon points="705.8,768.6 713.8,744.2 716.4,754.0 715.5,757.5 722.0,762.0 727.0,763.2 734.5,769.5" fill="#4b5f8a"/>
<polygon points="303.8,793.5 303.6,793.1 303.2,792.7 302.8,792.2 302.4,791.8 301.9,791.3 301.3,790.9 300.7,790.4 300.1,789.8 299.5,789.2 298.8,788.6 298.1,788.0 297.4,787.2 296.6,786.5 295.8,785.6 294.9,784.7 294.0,783.8 293.0,782.8 292.0,781.7 291.0,780.7 290.0,779.6 289.0,778.5 288.0,777.4 287.0,776.3 286.0,775.2 285.0,774.0 283.9,772.8 282.9,771.6 281.9,770.3 280.8,769.0 279.8,767.7 278.8,766.3 277.8,764.9 276.7,763.6 275.8,762.2 274.8,760.9 273.9,759.5 273.0,758.2 272.1,756.9 271.2,755.7 270.4,754.4 269.6,753.1 268.8,751.8 268.0,750.5 267.2,749.2 266.4,747.9 265.7,746.6 264.9,745.2 264.2,743.8 263.4,742.4 262.6,740.9 261.9,739.4 261.1,737.8 260.4,736.2 259.7,734.7 258.9,733.1 258.2,731.5 257.6,730.0 256.9,728.4 256.3,727.0 255.7,725.6 255.1,724.2 254.6,722.8 254.0,721.4 253.5,720.0 253.0,718.6 252.5,717.2 252.0,715.9 251.6,714.7 251.2,713.6 250.9,712.6 250.6,711.7 250.3,711.0 244.9,713.0 245.1,713.7 245.4,714.5 245.8,715.5 246.1,716.6 246.6,717.8 247.0,719.2 247.5,720.5 248.0,722.0 248.6,723.4 249.2,724.9 249.7,726.4 250.3,727.8 250.9,729.3 251.6,730.7 252.2,732.3 252.9,733.9 253.6,735.5 254.4,737.1 255.1,738.7 255.9,740.3 256.7,741.9 257.5,743.5 258.3,745.1 259.0,746.6 259.8,748.0 260.6,749.4 261.4,750.8 262.2,752.2 263.0,753.6 263.9,754.9 264.7,756.2 265.5,757.5 266.4,758.9 267.3,760.2 268.2,761.5 269.1,762.9 270.1,764.2 271.1,765.6 272.1,767.0 273.1,768.4 274.1,769.8 275.2,771.2 276.3,772.6 277.3,773.9 278.4,775.3 279.5,776.6 280.6,777.8 281.6,779.0 282.7,780.2 283.8,781.4 285.0,782.5 286.1,783.5 287.3,784.5 288.5,785.5 289.6,786.5 290.8,787.3 291.8,788.2 292.9,789.0 293.9,789.7 294.8,790.4 295.7,791.0 296.6,791.5 297.5,792.0 298.3,792.5 299.1,792.9 299.9,793.2 300.6,793.5 301.3,793.7 301.9,793.9 302.4,794.0 302.9,794.1 303.4,794.1" fill="#4b5f8a"/>
<polygon points="242.0,698.5 233.2,725.8 241.4,716.5 243.5,712.5 251.0,712.5 252.6,710.2 263.0,712.8" fill="#4b5f8a"/>
<g opacity="0.999">
<text x="825.78" y="63.1" font-family="'Liberation Serif', serif" font-size="63" font-weight="bold" fill="#4b5f8a" textLength="32.65" lengthAdjust="spacingAndGlyphs" stroke="#4b5f8a" stroke-width="1.2">4</text>
<text transform="scale(0.897,1)" x="802.12 853.96 894.76 938.91 991.19 1036.12" y="135.0" font-family="'Liberation Serif', serif" font-size="66" font-weight="bold" fill="#4b5f8a" stroke="#4b5f8a" stroke-width="1.4">OPÇÕES</text>
<text x="822.43" y="192.4" font-family="'Liberation Sans', sans-serif" font-size="35" font-weight="normal" fill="#4b5f8a" textLength="48.97" lengthAdjust="spacingAndGlyphs" stroke="#fff" stroke-width="0.9">DE</text>
<text x="726.12" y="233.4" font-family="'Liberation Sans', sans-serif" font-size="35" font-weight="normal" fill="#4b5f8a" textLength="238.93" lengthAdjust="spacingAndGlyphs" stroke="#fff" stroke-width="0.9">MONTAGENS</text>
<text x="52.03" y="84.9" font-family="'Liberation Sans', sans-serif" font-size="25" font-weight="bold" fill="#4b5f8a" textLength="26.32" lengthAdjust="spacingAndGlyphs">1-</text>
<text x="84.92" y="84.9" font-family="'Liberation Sans', sans-serif" font-size="25" font-weight="normal" fill="#4b5f8a" textLength="83.12" lengthAdjust="spacingAndGlyphs" stroke="#fff" stroke-width="0.4">CAMA</text>
<text x="50.76" y="116.0" font-family="'Liberation Sans', sans-serif" font-size="25" font-weight="normal" fill="#4b5f8a" textLength="241.04" lengthAdjust="spacingAndGlyphs" stroke="#fff" stroke-width="0.4">MONTESSORIANA</text>
<text x="820.66" y="697.4" font-family="'Liberation Sans', sans-serif" font-size="25" font-weight="bold" fill="#4b5f8a" textLength="27.68" lengthAdjust="spacingAndGlyphs">2-</text>
<text x="854.13" y="697.4" font-family="'Liberation Sans', sans-serif" font-size="25" font-weight="normal" fill="#4b5f8a" textLength="83.51" lengthAdjust="spacingAndGlyphs" stroke="#fff" stroke-width="0.4">CAMA</text>
<text x="819.77" y="728.3" font-family="'Liberation Sans', sans-serif" font-size="25" font-weight="normal" fill="#4b5f8a" textLength="131.87" lengthAdjust="spacingAndGlyphs" stroke="#fff" stroke-width="0.4">SOLTEIRO</text>
<text x="697.92" y="857.7" font-family="'Liberation Sans', sans-serif" font-size="25" font-weight="bold" fill="#4b5f8a" textLength="27.54" lengthAdjust="spacingAndGlyphs">3-</text>
<text x="732.75" y="857.7" font-family="'Liberation Sans', sans-serif" font-size="25" font-weight="normal" fill="#4b5f8a" textLength="82.06" lengthAdjust="spacingAndGlyphs" stroke="#fff" stroke-width="0.4">CAMA</text>
<text x="696.97" y="889.1" font-family="'Liberation Sans', sans-serif" font-size="25" font-weight="normal" fill="#4b5f8a" textLength="158.25" lengthAdjust="spacingAndGlyphs" stroke="#fff" stroke-width="0.4">COM CAMA</text>
<text x="697.98" y="919.1" font-family="'Liberation Sans', sans-serif" font-size="25" font-weight="normal" fill="#4b5f8a" textLength="124.47" lengthAdjust="spacingAndGlyphs" stroke="#fff" stroke-width="0.4">AUXILIAR</text>
<text x="697.99" y="943.0" font-family="'Liberation Sans', sans-serif" font-size="18.5" font-weight="normal" fill="#4b5f8a" textLength="198.22" lengthAdjust="spacingAndGlyphs" stroke="#fff" stroke-width="0.3">(VENDIDO SEPARADO)</text>
<text x="5.91" y="705.5" font-family="'Liberation Sans', sans-serif" font-size="25" font-weight="bold" fill="#4b5f8a" textLength="24.63" lengthAdjust="spacingAndGlyphs">4-</text>
<text x="35.76" y="705.5" font-family="'Liberation Sans', sans-serif" font-size="25" font-weight="normal" fill="#4b5f8a" textLength="150.29" lengthAdjust="spacingAndGlyphs" stroke="#fff" stroke-width="0.4">CAMA COM</text>
<text x="6.15" y="737.0" font-family="'Liberation Sans', sans-serif" font-size="25" font-weight="normal" fill="#4b5f8a" textLength="224.10" lengthAdjust="spacingAndGlyphs" stroke="#fff" stroke-width="0.4">ESCORREGADOR</text>
<text x="6.58" y="759.3" font-family="'Liberation Sans', sans-serif" font-size="18.5" font-weight="normal" fill="#4b5f8a" textLength="193.63" lengthAdjust="spacingAndGlyphs" stroke="#fff" stroke-width="0.3">(VENDIDO SEPARADO)</text>
<text x="2.38" y="984.8" font-family="'Liberation Sans', sans-serif" font-size="23" font-weight="normal" fill="#4b5f8a" textLength="122.07" lengthAdjust="spacingAndGlyphs" stroke="#fff" stroke-width="0.15">*COLCHÃO,</text>
<text x="128.16" y="984.8" font-family="'Liberation Sans', sans-serif" font-size="23" font-weight="normal" fill="#4b5f8a" textLength="170.88" lengthAdjust="spacingAndGlyphs" stroke="#fff" stroke-width="0.15">ESCORREGADOR</text>
<text x="304.74" y="984.8" font-family="'Liberation Sans', sans-serif" font-size="23" font-weight="normal" fill="#4b5f8a" textLength="11.83" lengthAdjust="spacingAndGlyphs" stroke="#fff" stroke-width="0.15">E</text>
<text x="325.20" y="984.8" font-family="'Liberation Sans', sans-serif" font-size="23" font-weight="normal" fill="#4b5f8a" textLength="96.81" lengthAdjust="spacingAndGlyphs" stroke="#fff" stroke-width="0.15">AUXILIAR</text>
<text x="433.19" y="984.8" font-family="'Liberation Sans', sans-serif" font-size="23" font-weight="normal" fill="#4b5f8a" textLength="98.62" lengthAdjust="spacingAndGlyphs" stroke="#fff" stroke-width="0.15">VENDIDO</text>
<text x="535.17" y="984.8" font-family="'Liberation Sans', sans-serif" font-size="23" font-weight="normal" fill="#4b5f8a" textLength="112.85" lengthAdjust="spacingAndGlyphs" stroke="#fff" stroke-width="0.15">SEPARADO</text>
</g>
</svg>
</body>
</html>
